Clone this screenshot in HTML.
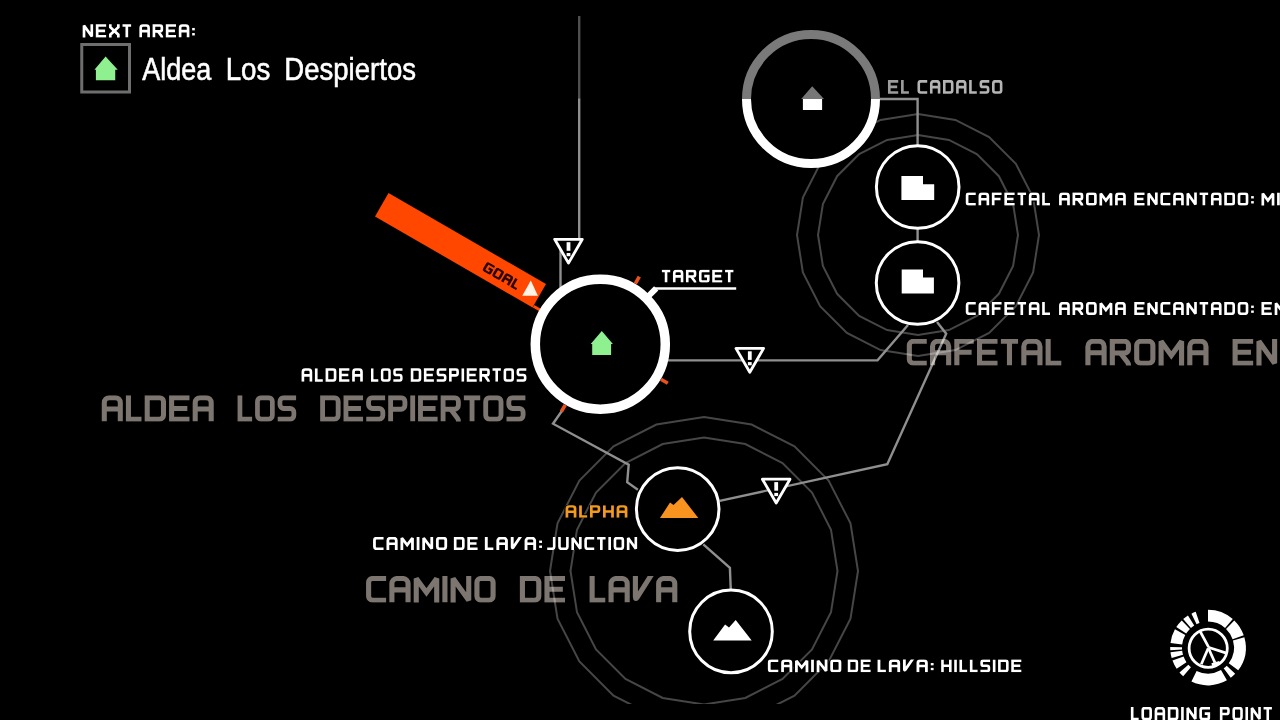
<!DOCTYPE html>
<html><head><meta charset="utf-8"><style>
html,body{margin:0;padding:0;background:#000;width:1280px;height:720px;overflow:hidden}
svg{display:block;will-change:transform}
text{font-family:"Liberation Sans",sans-serif}
</style></head><body>
<svg width="1280" height="720" viewBox="0 0 1280 720">
<defs><clipPath id="mapclip"><rect x="0" y="16" width="1280" height="688"/></clipPath></defs>
<rect width="1280" height="720" fill="#000"/>
<g transform="translate(906.90,338.90) scale(0.26852,0.26700)"><clipPath id="wc1"><rect x="-20" y="0" width="615.0" height="100"/></clipPath><g clip-path="url(#wc1)"><g fill="none" stroke="#7d7670" stroke-width="19" stroke-linejoin="miter" stroke-miterlimit="2.5"><path transform="translate(0.00,0)" d="M74.00,9.00L24.00,9.00C15.72,9.00 9.00,15.72 9.00,24.00L9.00,76.00C9.00,84.28 15.72,91.00 24.00,91.00L74.00,91.00"/><path transform="translate(86.50,0)" d="M9.00,100.00L9.00,28.00C9.00,17.51 17.51,9.00 28.00,9.00L50.00,9.00C60.49,9.00 69.00,17.51 69.00,28.00L69.00,100.00"/><path transform="translate(86.50,0)" d="M9.00,52.00L69.00,52.00"/><path transform="translate(177.00,0)" d="M72.00,9.00L9.00,9.00L9.00,100.00"/><path transform="translate(177.00,0)" d="M9.00,50.00L64.00,50.00"/><path transform="translate(261.50,0)" d="M76.00,9.00L9.00,9.00L9.00,91.00L76.00,91.00"/><path transform="translate(261.50,0)" d="M9.00,50.00L68.00,50.00"/><path transform="translate(350.00,0)" d="M0.00,9.00L64.00,9.00"/><path transform="translate(350.00,0)" d="M32.00,9.00L32.00,100.00"/><path transform="translate(426.50,0)" d="M9.00,100.00L9.00,28.00C9.00,17.51 17.51,9.00 28.00,9.00L50.00,9.00C60.49,9.00 69.00,17.51 69.00,28.00L69.00,100.00"/><path transform="translate(426.50,0)" d="M9.00,52.00L69.00,52.00"/><path transform="translate(517.00,0)" d="M9.00,0.00L9.00,91.00L58.00,91.00"/></g></g></g>
<g transform="translate(1085.50,338.90) scale(0.26952,0.26700)"><clipPath id="wc2"><rect x="-20" y="0" width="496.0" height="100"/></clipPath><g clip-path="url(#wc2)"><g fill="none" stroke="#7d7670" stroke-width="19" stroke-linejoin="miter" stroke-miterlimit="2.5"><path transform="translate(0.00,0)" d="M9.00,100.00L9.00,28.00C9.00,17.51 17.51,9.00 28.00,9.00L50.00,9.00C60.49,9.00 69.00,17.51 69.00,28.00L69.00,100.00"/><path transform="translate(0.00,0)" d="M9.00,52.00L69.00,52.00"/><path transform="translate(90.50,0)" d="M9.00,100.00L9.00,9.00L54.00,9.00C62.28,9.00 69.00,15.72 69.00,24.00L69.00,38.00C69.00,46.28 62.28,53.00 54.00,53.00L9.00,53.00"/><path transform="translate(90.50,0)" d="M39.00,53.00L65.34,87.24C67.36,89.87 69.00,94.69 69.00,98.00L69.00,105.00"/><path transform="translate(181.00,0)" d="M9.00,24.00C9.00,15.72 15.72,9.00 24.00,9.00L54.00,9.00C62.28,9.00 69.00,15.72 69.00,24.00L69.00,76.00C69.00,84.28 62.28,91.00 54.00,91.00L24.00,91.00C15.72,91.00 9.00,84.28 9.00,76.00Z"/><path transform="translate(271.50,0)" d="M9.00,105.00L9.00,9.00L47.00,62.00L85.00,9.00L85.00,105.00"/><path transform="translate(378.00,0)" d="M9.00,100.00L9.00,28.00C9.00,17.51 17.51,9.00 28.00,9.00L50.00,9.00C60.49,9.00 69.00,17.51 69.00,28.00L69.00,100.00"/><path transform="translate(378.00,0)" d="M9.00,52.00L69.00,52.00"/></g></g></g>
<g transform="translate(1232.70,338.90) scale(0.26952,0.26700)"><clipPath id="wc3"><rect x="-20" y="0" width="819.0" height="100"/></clipPath><g clip-path="url(#wc3)"><g fill="none" stroke="#7d7670" stroke-width="19" stroke-linejoin="miter" stroke-miterlimit="2.5"><path transform="translate(0.00,0)" d="M76.00,9.00L9.00,9.00L9.00,91.00L76.00,91.00"/><path transform="translate(0.00,0)" d="M9.00,50.00L68.00,50.00"/><path transform="translate(88.50,0)" d="M9.00,105.00L9.00,9.00L67.00,91.00L67.00,-5.00"/><path transform="translate(177.00,0)" d="M74.00,9.00L24.00,9.00C15.72,9.00 9.00,15.72 9.00,24.00L9.00,76.00C9.00,84.28 15.72,91.00 24.00,91.00L74.00,91.00"/><path transform="translate(263.50,0)" d="M9.00,100.00L9.00,28.00C9.00,17.51 17.51,9.00 28.00,9.00L50.00,9.00C60.49,9.00 69.00,17.51 69.00,28.00L69.00,100.00"/><path transform="translate(263.50,0)" d="M9.00,52.00L69.00,52.00"/><path transform="translate(354.00,0)" d="M9.00,105.00L9.00,9.00L67.00,91.00L67.00,-5.00"/><path transform="translate(442.50,0)" d="M0.00,9.00L64.00,9.00"/><path transform="translate(442.50,0)" d="M32.00,9.00L32.00,100.00"/><path transform="translate(519.00,0)" d="M9.00,100.00L9.00,28.00C9.00,17.51 17.51,9.00 28.00,9.00L50.00,9.00C60.49,9.00 69.00,17.51 69.00,28.00L69.00,100.00"/><path transform="translate(519.00,0)" d="M9.00,52.00L69.00,52.00"/><path transform="translate(609.50,0)" d="M9.00,9.00L55.00,9.00C63.28,9.00 70.00,15.72 70.00,24.00L70.00,76.00C70.00,84.28 63.28,91.00 55.00,91.00L9.00,91.00Z"/><path transform="translate(701.00,0)" d="M9.00,24.00C9.00,15.72 15.72,9.00 24.00,9.00L54.00,9.00C62.28,9.00 69.00,15.72 69.00,24.00L69.00,76.00C69.00,84.28 62.28,91.00 54.00,91.00L24.00,91.00C15.72,91.00 9.00,84.28 9.00,76.00Z"/></g></g></g>
<g transform="translate(101.90,395.30) scale(0.26659,0.26200)"><clipPath id="wc4"><rect x="-20" y="0" width="459.0" height="100"/></clipPath><g clip-path="url(#wc4)"><g fill="none" stroke="#7d7670" stroke-width="19" stroke-linejoin="miter" stroke-miterlimit="2.5"><path transform="translate(0.00,0)" d="M9.00,100.00L9.00,28.00C9.00,17.51 17.51,9.00 28.00,9.00L50.00,9.00C60.49,9.00 69.00,17.51 69.00,28.00L69.00,100.00"/><path transform="translate(0.00,0)" d="M9.00,52.00L69.00,52.00"/><path transform="translate(90.50,0)" d="M9.00,0.00L9.00,91.00L58.00,91.00"/><path transform="translate(161.00,0)" d="M9.00,9.00L55.00,9.00C63.28,9.00 70.00,15.72 70.00,24.00L70.00,76.00C70.00,84.28 63.28,91.00 55.00,91.00L9.00,91.00Z"/><path transform="translate(252.50,0)" d="M76.00,9.00L9.00,9.00L9.00,91.00L76.00,91.00"/><path transform="translate(252.50,0)" d="M9.00,50.00L68.00,50.00"/><path transform="translate(341.00,0)" d="M9.00,100.00L9.00,28.00C9.00,17.51 17.51,9.00 28.00,9.00L50.00,9.00C60.49,9.00 69.00,17.51 69.00,28.00L69.00,100.00"/><path transform="translate(341.00,0)" d="M9.00,52.00L69.00,52.00"/></g></g></g>
<g transform="translate(237.70,395.30) scale(0.24851,0.26200)"><clipPath id="wc5"><rect x="-20" y="0" width="275.0" height="100"/></clipPath><g clip-path="url(#wc5)"><g fill="none" stroke="#7d7670" stroke-width="19" stroke-linejoin="miter" stroke-miterlimit="2.5"><path transform="translate(0.00,0)" d="M9.00,0.00L9.00,91.00L58.00,91.00"/><path transform="translate(70.50,0)" d="M9.00,24.00C9.00,15.72 15.72,9.00 24.00,9.00L54.00,9.00C62.28,9.00 69.00,15.72 69.00,24.00L69.00,76.00C69.00,84.28 62.28,91.00 54.00,91.00L24.00,91.00C15.72,91.00 9.00,84.28 9.00,76.00Z"/><path transform="translate(161.00,0)" d="M74.00,9.00L24.00,9.00C15.72,9.00 9.00,15.72 9.00,24.00L9.00,35.00C9.00,43.28 15.72,50.00 24.00,50.00L50.00,50.00C58.28,50.00 65.00,56.72 65.00,65.00L65.00,76.00C65.00,84.28 58.28,91.00 50.00,91.00L0.00,91.00"/></g></g></g>
<g transform="translate(320.30,395.30) scale(0.25526,0.26200)"><clipPath id="wc6"><rect x="-20" y="0" width="843.5" height="100"/></clipPath><g clip-path="url(#wc6)"><g fill="none" stroke="#7d7670" stroke-width="19" stroke-linejoin="miter" stroke-miterlimit="2.5"><path transform="translate(0.00,0)" d="M9.00,9.00L55.00,9.00C63.28,9.00 70.00,15.72 70.00,24.00L70.00,76.00C70.00,84.28 63.28,91.00 55.00,91.00L9.00,91.00Z"/><path transform="translate(91.50,0)" d="M76.00,9.00L9.00,9.00L9.00,91.00L76.00,91.00"/><path transform="translate(91.50,0)" d="M9.00,50.00L68.00,50.00"/><path transform="translate(180.00,0)" d="M74.00,9.00L24.00,9.00C15.72,9.00 9.00,15.72 9.00,24.00L9.00,35.00C9.00,43.28 15.72,50.00 24.00,50.00L50.00,50.00C58.28,50.00 65.00,56.72 65.00,65.00L65.00,76.00C65.00,84.28 58.28,91.00 50.00,91.00L0.00,91.00"/><path transform="translate(266.50,0)" d="M9.00,100.00L9.00,9.00L50.00,9.00C58.28,9.00 65.00,15.72 65.00,24.00L65.00,38.00C65.00,46.28 58.28,53.00 50.00,53.00L9.00,53.00"/><path transform="translate(353.00,0)" d="M9.00,0.00L9.00,100.00"/><path transform="translate(383.50,0)" d="M76.00,9.00L9.00,9.00L9.00,91.00L76.00,91.00"/><path transform="translate(383.50,0)" d="M9.00,50.00L68.00,50.00"/><path transform="translate(472.00,0)" d="M9.00,100.00L9.00,9.00L54.00,9.00C62.28,9.00 69.00,15.72 69.00,24.00L69.00,38.00C69.00,46.28 62.28,53.00 54.00,53.00L9.00,53.00"/><path transform="translate(472.00,0)" d="M39.00,53.00L65.34,87.24C67.36,89.87 69.00,94.69 69.00,98.00L69.00,105.00"/><path transform="translate(562.50,0)" d="M0.00,9.00L64.00,9.00"/><path transform="translate(562.50,0)" d="M32.00,9.00L32.00,100.00"/><path transform="translate(639.00,0)" d="M9.00,24.00C9.00,15.72 15.72,9.00 24.00,9.00L54.00,9.00C62.28,9.00 69.00,15.72 69.00,24.00L69.00,76.00C69.00,84.28 62.28,91.00 54.00,91.00L24.00,91.00C15.72,91.00 9.00,84.28 9.00,76.00Z"/><path transform="translate(729.50,0)" d="M74.00,9.00L24.00,9.00C15.72,9.00 9.00,15.72 9.00,24.00L9.00,35.00C9.00,43.28 15.72,50.00 24.00,50.00L50.00,50.00C58.28,50.00 65.00,56.72 65.00,65.00L65.00,76.00C65.00,84.28 58.28,91.00 50.00,91.00L0.00,91.00"/></g></g></g>
<g transform="translate(366.20,576.10) scale(0.26909,0.26500)"><clipPath id="wc7"><rect x="-20" y="0" width="520.5" height="100"/></clipPath><g clip-path="url(#wc7)"><g fill="none" stroke="#7d7670" stroke-width="19" stroke-linejoin="miter" stroke-miterlimit="2.5"><path transform="translate(0.00,0)" d="M74.00,9.00L24.00,9.00C15.72,9.00 9.00,15.72 9.00,24.00L9.00,76.00C9.00,84.28 15.72,91.00 24.00,91.00L74.00,91.00"/><path transform="translate(86.50,0)" d="M9.00,100.00L9.00,28.00C9.00,17.51 17.51,9.00 28.00,9.00L50.00,9.00C60.49,9.00 69.00,17.51 69.00,28.00L69.00,100.00"/><path transform="translate(86.50,0)" d="M9.00,52.00L69.00,52.00"/><path transform="translate(177.00,0)" d="M9.00,105.00L9.00,9.00L47.00,62.00L85.00,9.00L85.00,105.00"/><path transform="translate(283.50,0)" d="M9.00,0.00L9.00,100.00"/><path transform="translate(314.00,0)" d="M9.00,105.00L9.00,9.00L67.00,91.00L67.00,-5.00"/><path transform="translate(402.50,0)" d="M9.00,24.00C9.00,15.72 15.72,9.00 24.00,9.00L54.00,9.00C62.28,9.00 69.00,15.72 69.00,24.00L69.00,76.00C69.00,84.28 62.28,91.00 54.00,91.00L24.00,91.00C15.72,91.00 9.00,84.28 9.00,76.00Z"/></g></g></g>
<g transform="translate(520.00,576.10) scale(0.26866,0.26500)"><clipPath id="wc8"><rect x="-20" y="0" width="207.5" height="100"/></clipPath><g clip-path="url(#wc8)"><g fill="none" stroke="#7d7670" stroke-width="19" stroke-linejoin="miter" stroke-miterlimit="2.5"><path transform="translate(0.00,0)" d="M9.00,9.00L55.00,9.00C63.28,9.00 70.00,15.72 70.00,24.00L70.00,76.00C70.00,84.28 63.28,91.00 55.00,91.00L9.00,91.00Z"/><path transform="translate(91.50,0)" d="M76.00,9.00L9.00,9.00L9.00,91.00L76.00,91.00"/><path transform="translate(91.50,0)" d="M9.00,50.00L68.00,50.00"/></g></g></g>
<g transform="translate(589.70,576.10) scale(0.26882,0.26500)"><clipPath id="wc9"><rect x="-20" y="0" width="365.5" height="100"/></clipPath><g clip-path="url(#wc9)"><g fill="none" stroke="#7d7670" stroke-width="19" stroke-linejoin="miter" stroke-miterlimit="2.5"><path transform="translate(0.00,0)" d="M9.00,0.00L9.00,91.00L58.00,91.00"/><path transform="translate(70.50,0)" d="M9.00,100.00L9.00,28.00C9.00,17.51 17.51,9.00 28.00,9.00L50.00,9.00C60.49,9.00 69.00,17.51 69.00,28.00L69.00,100.00"/><path transform="translate(70.50,0)" d="M9.00,52.00L69.00,52.00"/><path transform="translate(161.00,0)" d="M9.00,-5.00L9.00,79.00C9.00,85.63 11.83,86.44 15.33,80.81L71.72,-10.00"/><path transform="translate(247.50,0)" d="M9.00,100.00L9.00,28.00C9.00,17.51 17.51,9.00 28.00,9.00L50.00,9.00C60.49,9.00 69.00,17.51 69.00,28.00L69.00,100.00"/><path transform="translate(247.50,0)" d="M9.00,52.00L69.00,52.00"/></g></g></g>
<g style="mix-blend-mode:screen">
<g clip-path="url(#mapclip)" fill="none" stroke="#464646" stroke-width="2.0">
<polygon points="918.0,114.0 955.4,119.9 989.1,137.1 1015.9,163.9 1033.1,197.6 1039.0,235.0 1033.1,272.4 1015.9,306.1 989.1,332.9 955.4,350.1 918.0,356.0 880.6,350.1 846.9,332.9 820.1,306.1 802.9,272.4 797.0,235.0 802.9,197.6 820.1,163.9 846.9,137.1 880.6,119.9"/>
<polygon points="918.0,135.0 948.9,139.9 976.8,154.1 998.9,176.2 1013.1,204.1 1018.0,235.0 1013.1,265.9 998.9,293.8 976.8,315.9 948.9,330.1 918.0,335.0 887.1,330.1 859.2,315.9 837.1,293.8 822.9,265.9 818.0,235.0 822.9,204.1 837.1,176.2 859.2,154.1 887.1,139.9"/>
<polygon points="704.0,417.0 751.6,424.5 794.5,446.4 828.6,480.5 850.5,523.4 858.0,571.0 850.5,618.6 828.6,661.5 794.5,695.6 751.6,717.5 704.0,725.0 656.4,717.5 613.5,695.6 579.4,661.5 557.5,618.6 550.0,571.0 557.5,523.4 579.4,480.5 613.5,446.4 656.4,424.5"/>
<polygon points="704.0,437.5 745.3,444.0 782.5,463.0 812.0,492.5 831.0,529.7 837.5,571.0 831.0,612.3 812.0,649.5 782.5,679.0 745.3,698.0 704.0,704.5 662.7,698.0 625.5,679.0 596.0,649.5 577.0,612.3 570.5,571.0 577.0,529.7 596.0,492.5 625.5,463.0 662.7,444.0"/>
</g>
<g fill="none" stroke="#8f8f8f" stroke-width="2.4" stroke-linejoin="miter">
<line x1="579.2" y1="16" x2="579.2" y2="98.3" stroke="#505050"/>
<line x1="579.2" y1="98.3" x2="579.2" y2="240"/>
<line x1="560.5" y1="250" x2="560.5" y2="290"/>
<polyline points="668,360.4 877.5,360.4 908,325"/>
<polyline points="937,322 946.2,333.7 887.3,464.2 719.7,500.9"/>
<polyline points="562.9,409.5 553,423.7 628.7,464.6 627.2,482.2 637.9,489.8"/>
<polyline points="703.3,544.4 729.9,567.9 730.8,590"/>
<polyline points="878,99 917.6,99 917.6,146"/>
<line x1="917.6" y1="228" x2="917.6" y2="242"/>
</g>
</g>
<polygon points="388.5,193.1 546.0,284.0 532.5,307.4 375.0,216.5" fill="#ff4700"/>
<polygon points="530.8,280.4 522.3,295.8 537.9,295.8" fill="#fff4e6"/>
<line x1="533.5" y1="306.2" x2="540.5" y2="310.2" stroke="#ff4a0c" stroke-width="3"/>
<g transform="translate(482.3,270.6) rotate(30)"><g transform="translate(0.00,-10.30) scale(0.11017,0.10300)"><clipPath id="wc10"><rect x="-20" y="0" width="394.0" height="100"/></clipPath><g clip-path="url(#wc10)"><g fill="none" stroke="#2a0600" stroke-width="23" stroke-linejoin="miter" stroke-miterlimit="2.5"><path transform="translate(0.00,0)" d="M80.00,9.00L24.00,9.00C15.72,9.00 9.00,15.72 9.00,24.00L9.00,76.00C9.00,84.28 15.72,91.00 24.00,91.00L62.00,91.00C66.97,91.00 71.00,86.97 71.00,82.00L71.00,50.00L40.00,50.00"/><path transform="translate(100.00,0)" d="M9.00,24.00C9.00,15.72 15.72,9.00 24.00,9.00L54.00,9.00C62.28,9.00 69.00,15.72 69.00,24.00L69.00,76.00C69.00,84.28 62.28,91.00 54.00,91.00L24.00,91.00C15.72,91.00 9.00,84.28 9.00,76.00Z"/><path transform="translate(198.00,0)" d="M9.00,100.00L9.00,28.00C9.00,17.51 17.51,9.00 28.00,9.00L50.00,9.00C60.49,9.00 69.00,17.51 69.00,28.00L69.00,100.00"/><path transform="translate(198.00,0)" d="M9.00,52.00L69.00,52.00"/><path transform="translate(296.00,0)" d="M9.00,0.00L9.00,91.00L58.00,91.00"/></g></g></g></g>
<circle cx="600.3" cy="344.2" r="65" fill="#000" stroke="#fff" stroke-width="9.5"/>
<line x1="635.3" y1="283.6" x2="639.3" y2="276.7" stroke="#e8521c" stroke-width="3.6"/>
<line x1="660.9" y1="379.2" x2="667.8" y2="383.2" stroke="#e8521c" stroke-width="3.6"/>
<line x1="565.3" y1="404.8" x2="561.3" y2="411.7" stroke="#e8521c" stroke-width="3.6"/>
<line x1="647.0" y1="297.5" x2="656.2" y2="288.3" stroke="#fff" stroke-width="6"/>
<line x1="655" y1="288.5" x2="736.2" y2="288.5" stroke="#fff" stroke-width="2.5"/>
<path d="M590.7,344 L601.8,331.1 L612.9,344 L611.1,344 L611.1,355.1 L592.2,355.1 L592.2,344 Z" fill="#8ff08f"/>
<circle cx="811" cy="99" r="65" fill="#000"/>
<path d="M746.5,99 A64.5,64.5 0 0 1 875.5,99" fill="none" stroke="#7a7a7a" stroke-width="9"/>
<path d="M746.5,99 A64.5,64.5 0 0 0 875.5,99" fill="none" stroke="#fff" stroke-width="9"/>
<polygon points="801.2,99 812.2,86.2 824,99" fill="#777"/>
<rect x="802.9" y="99" width="19.2" height="11" fill="#fff"/>
<circle cx="917.7" cy="187" r="41.3" fill="#000" stroke="#fff" stroke-width="3"/>
<circle cx="917.6" cy="283" r="41.3" fill="#000" stroke="#fff" stroke-width="3"/>
<circle cx="677.7" cy="509.1" r="41.3" fill="#000" stroke="#fff" stroke-width="3"/>
<circle cx="731" cy="631.4" r="41.3" fill="#000" stroke="#fff" stroke-width="3"/>
<path d="M901.4,175.9 H923 V184.2 H934.2 V200 H901.4 Z" fill="#fff"/>
<path d="M901.7,269.4 H923 V277.6 H933.9 V293.6 H901.7 Z" fill="#fff"/>
<path d="M660,518 L670,502.5 L673.5,505 L682,497 L698.3,518 Z" fill="#f7931e"/>
<path d="M713.2,640.4 L725.1,624.4 L729,627.4 L735.7,619.9 L751.7,640.4 Z" fill="#fff"/>
<path d="M554.70,239.30 L582.30,239.30 L568.50,263.10 Z" fill="#000" stroke="#fff" stroke-width="2.8" stroke-linejoin="round"/><rect x="566.60" y="242.20" width="3.8" height="8.6" fill="#fff"/><rect x="566.60" y="253.00" width="3.8" height="3.2" fill="#fff"/>
<path d="M736.00,348.40 L763.60,348.40 L749.80,372.20 Z" fill="#000" stroke="#fff" stroke-width="2.8" stroke-linejoin="round"/><rect x="747.90" y="351.30" width="3.8" height="8.6" fill="#fff"/><rect x="747.90" y="362.10" width="3.8" height="3.2" fill="#fff"/>
<path d="M762.40,479.20 L790.00,479.20 L776.20,503.00 Z" fill="#000" stroke="#fff" stroke-width="2.8" stroke-linejoin="round"/><rect x="774.30" y="482.10" width="3.8" height="8.6" fill="#fff"/><rect x="774.30" y="492.90" width="3.8" height="3.2" fill="#fff"/>
<rect x="81.75" y="44.5" width="47.75" height="47.5" fill="none" stroke="#6e6e6e" stroke-width="3"/>
<path d="M94.4,69.75 L105.6,56.5 L117.75,69.75 L115.25,69.75 L115.25,80.25 L95.9,80.25 L95.9,69.75 Z" fill="#8ff08f"/>
<path d="M1208.00,609.80 A37.8,37.8 0 0 1 1232.80,619.07 L1225.06,627.98 A26,26 0 0 0 1208.00,621.60 Z" fill="#fff"/>
<path d="M1234.26,620.41 A37.8,37.8 0 0 1 1243.74,635.29 L1232.58,639.14 A26,26 0 0 0 1226.06,628.90 Z" fill="#fff"/>
<path d="M1244.34,637.18 A37.8,37.8 0 0 1 1238.19,670.35 L1228.76,663.25 A26,26 0 0 0 1232.99,640.43 Z" fill="#fff"/>
<path d="M1235.19,673.86 A37.8,37.8 0 0 1 1230.75,677.79 L1223.65,668.36 A26,26 0 0 0 1226.70,665.66 Z" fill="#fff"/>
<path d="M1226.90,680.34 A37.8,37.8 0 0 1 1191.43,681.57 L1196.60,670.97 A26,26 0 0 0 1221.00,670.12 Z" fill="#fff"/>
<path d="M1183.20,676.13 A37.8,37.8 0 0 1 1179.47,672.40 L1188.38,664.66 A26,26 0 0 0 1190.94,667.22 Z" fill="#fff"/>
<path d="M1176.66,668.74 A37.8,37.8 0 0 1 1172.48,660.53 L1183.57,656.49 A26,26 0 0 0 1186.45,662.14 Z" fill="#fff"/>
<path d="M1171.66,658.02 A37.8,37.8 0 0 1 1170.48,652.21 L1182.19,650.77 A26,26 0 0 0 1183.01,654.77 Z" fill="#fff"/>
<path d="M1170.29,650.24 A37.8,37.8 0 0 1 1170.21,646.94 L1182.00,647.15 A26,26 0 0 0 1182.06,649.41 Z" fill="#fff"/>
<path d="M1170.48,642.99 A37.8,37.8 0 0 1 1174.94,629.27 L1185.26,634.99 A26,26 0 0 0 1182.19,644.43 Z" fill="#fff"/>
<path d="M1176.30,627.01 A37.8,37.8 0 0 1 1181.74,620.41 L1189.94,628.90 A26,26 0 0 0 1186.19,633.44 Z" fill="#fff"/>
<path d="M1183.20,619.07 A37.8,37.8 0 0 1 1187.97,615.54 L1194.22,625.55 A26,26 0 0 0 1190.94,627.98 Z" fill="#fff"/>
<path d="M1191.43,613.63 A37.8,37.8 0 0 1 1195.69,611.86 L1199.54,623.02 A26,26 0 0 0 1196.60,624.23 Z" fill="#fff"/>
<circle cx="1208.2" cy="648.3" r="19.1" fill="none" stroke="#fff" stroke-width="2.8"/>
<g stroke="#fff" stroke-width="2.7" fill="none" stroke-linecap="butt"><line x1="1200.2" y1="631.5" x2="1208.6" y2="647.2"/><line x1="1208.2" y1="647.2" x2="1226.4" y2="653.1"/><line x1="1208.2" y1="648.2" x2="1201.3" y2="664.2"/><line x1="1208.6" y1="648.5" x2="1214.9" y2="662.6"/><line x1="1211.8" y1="664.6" x2="1219.6" y2="662.2"/></g>
<g font-family="Liberation Sans, sans-serif">
<g transform="translate(82.80,24.20) scale(0.13417,0.13400)"><clipPath id="wc11"><rect x="-20" y="0" width="400.0" height="100"/></clipPath><g clip-path="url(#wc11)"><g fill="none" stroke="#000" stroke-width="37.88819875776397" stroke-linejoin="miter" stroke-miterlimit="2.5"><path transform="translate(0.00,0)" d="M9.00,105.00L9.00,9.00L67.00,91.00L67.00,-5.00"/><path transform="translate(98.00,0)" d="M76.00,9.00L9.00,9.00L9.00,91.00L76.00,91.00"/><path transform="translate(98.00,0)" d="M9.00,50.00L68.00,50.00"/><path transform="translate(196.00,0)" d="M9.00,-5.00L9.00,22.00L69.00,78.00L69.00,105.00"/><path transform="translate(196.00,0)" d="M69.00,-5.00L69.00,22.00L9.00,78.00L9.00,105.00"/><path transform="translate(296.00,0)" d="M0.00,9.00L64.00,9.00"/><path transform="translate(296.00,0)" d="M32.00,9.00L32.00,100.00"/></g></g></g>
<g transform="translate(82.80,24.20) scale(0.13417,0.13400)"><clipPath id="wc12"><rect x="-20" y="0" width="400.0" height="100"/></clipPath><g clip-path="url(#wc12)"><g fill="none" stroke="#ffffff" stroke-width="20" stroke-linejoin="miter" stroke-miterlimit="2.5"><path transform="translate(0.00,0)" d="M9.00,105.00L9.00,9.00L67.00,91.00L67.00,-5.00"/><path transform="translate(98.00,0)" d="M76.00,9.00L9.00,9.00L9.00,91.00L76.00,91.00"/><path transform="translate(98.00,0)" d="M9.00,50.00L68.00,50.00"/><path transform="translate(196.00,0)" d="M9.00,-5.00L9.00,22.00L69.00,78.00L69.00,105.00"/><path transform="translate(196.00,0)" d="M69.00,-5.00L69.00,22.00L9.00,78.00L9.00,105.00"/><path transform="translate(296.00,0)" d="M0.00,9.00L64.00,9.00"/><path transform="translate(296.00,0)" d="M32.00,9.00L32.00,100.00"/></g></g></g>
<g transform="translate(139.50,24.20) scale(0.13230,0.13400)"><clipPath id="wc13"><rect x="-20" y="0" width="458.0" height="100"/></clipPath><g clip-path="url(#wc13)"><g fill="none" stroke="#000" stroke-width="38.14104882459313" stroke-linejoin="miter" stroke-miterlimit="2.5"><path transform="translate(0.00,0)" d="M9.00,100.00L9.00,28.00C9.00,17.51 17.51,9.00 28.00,9.00L50.00,9.00C60.49,9.00 69.00,17.51 69.00,28.00L69.00,100.00"/><path transform="translate(0.00,0)" d="M9.00,52.00L69.00,52.00"/><path transform="translate(100.00,0)" d="M9.00,100.00L9.00,9.00L54.00,9.00C62.28,9.00 69.00,15.72 69.00,24.00L69.00,38.00C69.00,46.28 62.28,53.00 54.00,53.00L9.00,53.00"/><path transform="translate(100.00,0)" d="M39.00,53.00L65.34,87.24C67.36,89.87 69.00,94.69 69.00,98.00L69.00,105.00"/><path transform="translate(200.00,0)" d="M76.00,9.00L9.00,9.00L9.00,91.00L76.00,91.00"/><path transform="translate(200.00,0)" d="M9.00,50.00L68.00,50.00"/><path transform="translate(298.00,0)" d="M9.00,100.00L9.00,28.00C9.00,17.51 17.51,9.00 28.00,9.00L50.00,9.00C60.49,9.00 69.00,17.51 69.00,28.00L69.00,100.00"/><path transform="translate(298.00,0)" d="M9.00,52.00L69.00,52.00"/></g><rect x="398.00" y="28" width="20" height="18" fill="#000"/><rect x="398.00" y="66" width="20" height="18" fill="#000"/></g></g>
<g transform="translate(139.50,24.20) scale(0.13230,0.13400)"><clipPath id="wc14"><rect x="-20" y="0" width="458.0" height="100"/></clipPath><g clip-path="url(#wc14)"><g fill="none" stroke="#ffffff" stroke-width="20" stroke-linejoin="miter" stroke-miterlimit="2.5"><path transform="translate(0.00,0)" d="M9.00,100.00L9.00,28.00C9.00,17.51 17.51,9.00 28.00,9.00L50.00,9.00C60.49,9.00 69.00,17.51 69.00,28.00L69.00,100.00"/><path transform="translate(0.00,0)" d="M9.00,52.00L69.00,52.00"/><path transform="translate(100.00,0)" d="M9.00,100.00L9.00,9.00L54.00,9.00C62.28,9.00 69.00,15.72 69.00,24.00L69.00,38.00C69.00,46.28 62.28,53.00 54.00,53.00L9.00,53.00"/><path transform="translate(100.00,0)" d="M39.00,53.00L65.34,87.24C67.36,89.87 69.00,94.69 69.00,98.00L69.00,105.00"/><path transform="translate(200.00,0)" d="M76.00,9.00L9.00,9.00L9.00,91.00L76.00,91.00"/><path transform="translate(200.00,0)" d="M9.00,50.00L68.00,50.00"/><path transform="translate(298.00,0)" d="M9.00,100.00L9.00,28.00C9.00,17.51 17.51,9.00 28.00,9.00L50.00,9.00C60.49,9.00 69.00,17.51 69.00,28.00L69.00,100.00"/><path transform="translate(298.00,0)" d="M9.00,52.00L69.00,52.00"/></g><rect x="398.00" y="28" width="20" height="18" fill="#ffffff"/><rect x="398.00" y="66" width="20" height="18" fill="#ffffff"/></g></g>
<text transform="translate(142.25,79.55) scale(0.8491,1)" font-size="31.83" fill="#ffffff" stroke="#ffffff" stroke-width="0.59" paint-order="stroke">Aldea</text>
<text transform="translate(225.65,79.55) scale(0.8720,1)" font-size="31.83" fill="#ffffff" stroke="#ffffff" stroke-width="0.57" paint-order="stroke">Los</text>
<text transform="translate(284.25,79.55) scale(0.8663,1)" font-size="31.83" fill="#ffffff" stroke="#ffffff" stroke-width="0.58" paint-order="stroke">Despiertos</text>
<g transform="translate(888.10,80.10) scale(0.13333,0.13700)"><clipPath id="wc15"><rect x="-20" y="0" width="196.0" height="100"/></clipPath><g clip-path="url(#wc15)"><g fill="none" stroke="#000" stroke-width="38.000000000000036" stroke-linejoin="miter" stroke-miterlimit="2.5"><path transform="translate(0.00,0)" d="M76.00,9.00L9.00,9.00L9.00,91.00L76.00,91.00"/><path transform="translate(0.00,0)" d="M9.00,50.00L68.00,50.00"/><path transform="translate(98.00,0)" d="M9.00,0.00L9.00,91.00L58.00,91.00"/></g></g></g>
<g transform="translate(888.10,80.10) scale(0.13333,0.13700)"><clipPath id="wc16"><rect x="-20" y="0" width="196.0" height="100"/></clipPath><g clip-path="url(#wc16)"><g fill="none" stroke="#9c9c9c" stroke-width="20" stroke-linejoin="miter" stroke-miterlimit="2.5"><path transform="translate(0.00,0)" d="M76.00,9.00L9.00,9.00L9.00,91.00L76.00,91.00"/><path transform="translate(0.00,0)" d="M9.00,50.00L68.00,50.00"/><path transform="translate(98.00,0)" d="M9.00,0.00L9.00,91.00L58.00,91.00"/></g></g></g>
<g transform="translate(917.60,80.10) scale(0.13011,0.13700)"><clipPath id="wc17"><rect x="-20" y="0" width="691.0" height="100"/></clipPath><g clip-path="url(#wc17)"><g fill="none" stroke="#000" stroke-width="38.44628099173555" stroke-linejoin="miter" stroke-miterlimit="2.5"><path transform="translate(0.00,0)" d="M74.00,9.00L24.00,9.00C15.72,9.00 9.00,15.72 9.00,24.00L9.00,76.00C9.00,84.28 15.72,91.00 24.00,91.00L74.00,91.00"/><path transform="translate(96.00,0)" d="M9.00,100.00L9.00,28.00C9.00,17.51 17.51,9.00 28.00,9.00L50.00,9.00C60.49,9.00 69.00,17.51 69.00,28.00L69.00,100.00"/><path transform="translate(96.00,0)" d="M9.00,52.00L69.00,52.00"/><path transform="translate(196.00,0)" d="M9.00,9.00L55.00,9.00C63.28,9.00 70.00,15.72 70.00,24.00L70.00,76.00C70.00,84.28 63.28,91.00 55.00,91.00L9.00,91.00Z"/><path transform="translate(297.00,0)" d="M9.00,100.00L9.00,28.00C9.00,17.51 17.51,9.00 28.00,9.00L50.00,9.00C60.49,9.00 69.00,17.51 69.00,28.00L69.00,100.00"/><path transform="translate(297.00,0)" d="M9.00,52.00L69.00,52.00"/><path transform="translate(397.00,0)" d="M9.00,0.00L9.00,91.00L58.00,91.00"/><path transform="translate(477.00,0)" d="M74.00,9.00L24.00,9.00C15.72,9.00 9.00,15.72 9.00,24.00L9.00,35.00C9.00,43.28 15.72,50.00 24.00,50.00L50.00,50.00C58.28,50.00 65.00,56.72 65.00,65.00L65.00,76.00C65.00,84.28 58.28,91.00 50.00,91.00L0.00,91.00"/><path transform="translate(573.00,0)" d="M9.00,24.00C9.00,15.72 15.72,9.00 24.00,9.00L54.00,9.00C62.28,9.00 69.00,15.72 69.00,24.00L69.00,76.00C69.00,84.28 62.28,91.00 54.00,91.00L24.00,91.00C15.72,91.00 9.00,84.28 9.00,76.00Z"/></g></g></g>
<g transform="translate(917.60,80.10) scale(0.13011,0.13700)"><clipPath id="wc18"><rect x="-20" y="0" width="691.0" height="100"/></clipPath><g clip-path="url(#wc18)"><g fill="none" stroke="#b4b4b4" stroke-width="20" stroke-linejoin="miter" stroke-miterlimit="2.5"><path transform="translate(0.00,0)" d="M74.00,9.00L24.00,9.00C15.72,9.00 9.00,15.72 9.00,24.00L9.00,76.00C9.00,84.28 15.72,91.00 24.00,91.00L74.00,91.00"/><path transform="translate(96.00,0)" d="M9.00,100.00L9.00,28.00C9.00,17.51 17.51,9.00 28.00,9.00L50.00,9.00C60.49,9.00 69.00,17.51 69.00,28.00L69.00,100.00"/><path transform="translate(96.00,0)" d="M9.00,52.00L69.00,52.00"/><path transform="translate(196.00,0)" d="M9.00,9.00L55.00,9.00C63.28,9.00 70.00,15.72 70.00,24.00L70.00,76.00C70.00,84.28 63.28,91.00 55.00,91.00L9.00,91.00Z"/><path transform="translate(297.00,0)" d="M9.00,100.00L9.00,28.00C9.00,17.51 17.51,9.00 28.00,9.00L50.00,9.00C60.49,9.00 69.00,17.51 69.00,28.00L69.00,100.00"/><path transform="translate(297.00,0)" d="M9.00,52.00L69.00,52.00"/><path transform="translate(397.00,0)" d="M9.00,0.00L9.00,91.00L58.00,91.00"/><path transform="translate(477.00,0)" d="M74.00,9.00L24.00,9.00C15.72,9.00 9.00,15.72 9.00,24.00L9.00,35.00C9.00,43.28 15.72,50.00 24.00,50.00L50.00,50.00C58.28,50.00 65.00,56.72 65.00,65.00L65.00,76.00C65.00,84.28 58.28,91.00 50.00,91.00L0.00,91.00"/><path transform="translate(573.00,0)" d="M9.00,24.00C9.00,15.72 15.72,9.00 24.00,9.00L54.00,9.00C62.28,9.00 69.00,15.72 69.00,24.00L69.00,76.00C69.00,84.28 62.28,91.00 54.00,91.00L24.00,91.00C15.72,91.00 9.00,84.28 9.00,76.00Z"/></g></g></g>
<g transform="translate(661.90,269.70) scale(0.13000,0.12900)"><clipPath id="wc19"><rect x="-20" y="0" width="590.0" height="100"/></clipPath><g clip-path="url(#wc19)"><g fill="none" stroke="#000" stroke-width="38.46153846153846" stroke-linejoin="miter" stroke-miterlimit="2.5"><path transform="translate(0.00,0)" d="M0.00,9.00L64.00,9.00"/><path transform="translate(0.00,0)" d="M32.00,9.00L32.00,100.00"/><path transform="translate(86.00,0)" d="M9.00,100.00L9.00,28.00C9.00,17.51 17.51,9.00 28.00,9.00L50.00,9.00C60.49,9.00 69.00,17.51 69.00,28.00L69.00,100.00"/><path transform="translate(86.00,0)" d="M9.00,52.00L69.00,52.00"/><path transform="translate(186.00,0)" d="M9.00,100.00L9.00,9.00L54.00,9.00C62.28,9.00 69.00,15.72 69.00,24.00L69.00,38.00C69.00,46.28 62.28,53.00 54.00,53.00L9.00,53.00"/><path transform="translate(186.00,0)" d="M39.00,53.00L65.34,87.24C67.36,89.87 69.00,94.69 69.00,98.00L69.00,105.00"/><path transform="translate(286.00,0)" d="M80.00,9.00L24.00,9.00C15.72,9.00 9.00,15.72 9.00,24.00L9.00,76.00C9.00,84.28 15.72,91.00 24.00,91.00L62.00,91.00C66.97,91.00 71.00,86.97 71.00,82.00L71.00,50.00L40.00,50.00"/><path transform="translate(388.00,0)" d="M76.00,9.00L9.00,9.00L9.00,91.00L76.00,91.00"/><path transform="translate(388.00,0)" d="M9.00,50.00L68.00,50.00"/><path transform="translate(486.00,0)" d="M0.00,9.00L64.00,9.00"/><path transform="translate(486.00,0)" d="M32.00,9.00L32.00,100.00"/></g></g></g>
<g transform="translate(661.90,269.70) scale(0.13000,0.12900)"><clipPath id="wc20"><rect x="-20" y="0" width="590.0" height="100"/></clipPath><g clip-path="url(#wc20)"><g fill="none" stroke="#ffffff" stroke-width="20" stroke-linejoin="miter" stroke-miterlimit="2.5"><path transform="translate(0.00,0)" d="M0.00,9.00L64.00,9.00"/><path transform="translate(0.00,0)" d="M32.00,9.00L32.00,100.00"/><path transform="translate(86.00,0)" d="M9.00,100.00L9.00,28.00C9.00,17.51 17.51,9.00 28.00,9.00L50.00,9.00C60.49,9.00 69.00,17.51 69.00,28.00L69.00,100.00"/><path transform="translate(86.00,0)" d="M9.00,52.00L69.00,52.00"/><path transform="translate(186.00,0)" d="M9.00,100.00L9.00,9.00L54.00,9.00C62.28,9.00 69.00,15.72 69.00,24.00L69.00,38.00C69.00,46.28 62.28,53.00 54.00,53.00L9.00,53.00"/><path transform="translate(186.00,0)" d="M39.00,53.00L65.34,87.24C67.36,89.87 69.00,94.69 69.00,98.00L69.00,105.00"/><path transform="translate(286.00,0)" d="M80.00,9.00L24.00,9.00C15.72,9.00 9.00,15.72 9.00,24.00L9.00,76.00C9.00,84.28 15.72,91.00 24.00,91.00L62.00,91.00C66.97,91.00 71.00,86.97 71.00,82.00L71.00,50.00L40.00,50.00"/><path transform="translate(388.00,0)" d="M76.00,9.00L9.00,9.00L9.00,91.00L76.00,91.00"/><path transform="translate(388.00,0)" d="M9.00,50.00L68.00,50.00"/><path transform="translate(486.00,0)" d="M0.00,9.00L64.00,9.00"/><path transform="translate(486.00,0)" d="M32.00,9.00L32.00,100.00"/></g></g></g>
<g transform="translate(965.90,192.40) scale(0.13307,0.13200)"><clipPath id="wc21"><rect x="-20" y="0" width="672.0" height="100"/></clipPath><g clip-path="url(#wc21)"><g fill="none" stroke="#000" stroke-width="38.035671819262774" stroke-linejoin="miter" stroke-miterlimit="2.5"><path transform="translate(0.00,0)" d="M74.00,9.00L24.00,9.00C15.72,9.00 9.00,15.72 9.00,24.00L9.00,76.00C9.00,84.28 15.72,91.00 24.00,91.00L74.00,91.00"/><path transform="translate(96.00,0)" d="M9.00,100.00L9.00,28.00C9.00,17.51 17.51,9.00 28.00,9.00L50.00,9.00C60.49,9.00 69.00,17.51 69.00,28.00L69.00,100.00"/><path transform="translate(96.00,0)" d="M9.00,52.00L69.00,52.00"/><path transform="translate(196.00,0)" d="M72.00,9.00L9.00,9.00L9.00,100.00"/><path transform="translate(196.00,0)" d="M9.00,50.00L64.00,50.00"/><path transform="translate(290.00,0)" d="M76.00,9.00L9.00,9.00L9.00,91.00L76.00,91.00"/><path transform="translate(290.00,0)" d="M9.00,50.00L68.00,50.00"/><path transform="translate(388.00,0)" d="M0.00,9.00L64.00,9.00"/><path transform="translate(388.00,0)" d="M32.00,9.00L32.00,100.00"/><path transform="translate(474.00,0)" d="M9.00,100.00L9.00,28.00C9.00,17.51 17.51,9.00 28.00,9.00L50.00,9.00C60.49,9.00 69.00,17.51 69.00,28.00L69.00,100.00"/><path transform="translate(474.00,0)" d="M9.00,52.00L69.00,52.00"/><path transform="translate(574.00,0)" d="M9.00,0.00L9.00,91.00L58.00,91.00"/></g></g></g>
<g transform="translate(965.90,192.40) scale(0.13307,0.13200)"><clipPath id="wc22"><rect x="-20" y="0" width="672.0" height="100"/></clipPath><g clip-path="url(#wc22)"><g fill="none" stroke="#ffffff" stroke-width="20" stroke-linejoin="miter" stroke-miterlimit="2.5"><path transform="translate(0.00,0)" d="M74.00,9.00L24.00,9.00C15.72,9.00 9.00,15.72 9.00,24.00L9.00,76.00C9.00,84.28 15.72,91.00 24.00,91.00L74.00,91.00"/><path transform="translate(96.00,0)" d="M9.00,100.00L9.00,28.00C9.00,17.51 17.51,9.00 28.00,9.00L50.00,9.00C60.49,9.00 69.00,17.51 69.00,28.00L69.00,100.00"/><path transform="translate(96.00,0)" d="M9.00,52.00L69.00,52.00"/><path transform="translate(196.00,0)" d="M72.00,9.00L9.00,9.00L9.00,100.00"/><path transform="translate(196.00,0)" d="M9.00,50.00L64.00,50.00"/><path transform="translate(290.00,0)" d="M76.00,9.00L9.00,9.00L9.00,91.00L76.00,91.00"/><path transform="translate(290.00,0)" d="M9.00,50.00L68.00,50.00"/><path transform="translate(388.00,0)" d="M0.00,9.00L64.00,9.00"/><path transform="translate(388.00,0)" d="M32.00,9.00L32.00,100.00"/><path transform="translate(474.00,0)" d="M9.00,100.00L9.00,28.00C9.00,17.51 17.51,9.00 28.00,9.00L50.00,9.00C60.49,9.00 69.00,17.51 69.00,28.00L69.00,100.00"/><path transform="translate(474.00,0)" d="M9.00,52.00L69.00,52.00"/><path transform="translate(574.00,0)" d="M9.00,0.00L9.00,91.00L58.00,91.00"/></g></g></g>
<g transform="translate(1059.20,192.40) scale(0.13462,0.13200)"><clipPath id="wc23"><rect x="-20" y="0" width="534.0" height="100"/></clipPath><g clip-path="url(#wc23)"><g fill="none" stroke="#000" stroke-width="37.82857142857143" stroke-linejoin="miter" stroke-miterlimit="2.5"><path transform="translate(0.00,0)" d="M9.00,100.00L9.00,28.00C9.00,17.51 17.51,9.00 28.00,9.00L50.00,9.00C60.49,9.00 69.00,17.51 69.00,28.00L69.00,100.00"/><path transform="translate(0.00,0)" d="M9.00,52.00L69.00,52.00"/><path transform="translate(100.00,0)" d="M9.00,100.00L9.00,9.00L54.00,9.00C62.28,9.00 69.00,15.72 69.00,24.00L69.00,38.00C69.00,46.28 62.28,53.00 54.00,53.00L9.00,53.00"/><path transform="translate(100.00,0)" d="M39.00,53.00L65.34,87.24C67.36,89.87 69.00,94.69 69.00,98.00L69.00,105.00"/><path transform="translate(200.00,0)" d="M9.00,24.00C9.00,15.72 15.72,9.00 24.00,9.00L54.00,9.00C62.28,9.00 69.00,15.72 69.00,24.00L69.00,76.00C69.00,84.28 62.28,91.00 54.00,91.00L24.00,91.00C15.72,91.00 9.00,84.28 9.00,76.00Z"/><path transform="translate(300.00,0)" d="M9.00,105.00L9.00,9.00L47.00,62.00L85.00,9.00L85.00,105.00"/><path transform="translate(416.00,0)" d="M9.00,100.00L9.00,28.00C9.00,17.51 17.51,9.00 28.00,9.00L50.00,9.00C60.49,9.00 69.00,17.51 69.00,28.00L69.00,100.00"/><path transform="translate(416.00,0)" d="M9.00,52.00L69.00,52.00"/></g></g></g>
<g transform="translate(1059.20,192.40) scale(0.13462,0.13200)"><clipPath id="wc24"><rect x="-20" y="0" width="534.0" height="100"/></clipPath><g clip-path="url(#wc24)"><g fill="none" stroke="#ffffff" stroke-width="20" stroke-linejoin="miter" stroke-miterlimit="2.5"><path transform="translate(0.00,0)" d="M9.00,100.00L9.00,28.00C9.00,17.51 17.51,9.00 28.00,9.00L50.00,9.00C60.49,9.00 69.00,17.51 69.00,28.00L69.00,100.00"/><path transform="translate(0.00,0)" d="M9.00,52.00L69.00,52.00"/><path transform="translate(100.00,0)" d="M9.00,100.00L9.00,9.00L54.00,9.00C62.28,9.00 69.00,15.72 69.00,24.00L69.00,38.00C69.00,46.28 62.28,53.00 54.00,53.00L9.00,53.00"/><path transform="translate(100.00,0)" d="M39.00,53.00L65.34,87.24C67.36,89.87 69.00,94.69 69.00,98.00L69.00,105.00"/><path transform="translate(200.00,0)" d="M9.00,24.00C9.00,15.72 15.72,9.00 24.00,9.00L54.00,9.00C62.28,9.00 69.00,15.72 69.00,24.00L69.00,76.00C69.00,84.28 62.28,91.00 54.00,91.00L24.00,91.00C15.72,91.00 9.00,84.28 9.00,76.00Z"/><path transform="translate(300.00,0)" d="M9.00,105.00L9.00,9.00L47.00,62.00L85.00,9.00L85.00,105.00"/><path transform="translate(416.00,0)" d="M9.00,100.00L9.00,28.00C9.00,17.51 17.51,9.00 28.00,9.00L50.00,9.00C60.49,9.00 69.00,17.51 69.00,28.00L69.00,100.00"/><path transform="translate(416.00,0)" d="M9.00,52.00L69.00,52.00"/></g></g></g>
<g transform="translate(1134.40,192.40) scale(0.13311,0.13200)"><clipPath id="wc25"><rect x="-20" y="0" width="937.0" height="100"/></clipPath><g clip-path="url(#wc25)"><g fill="none" stroke="#000" stroke-width="38.030150753768865" stroke-linejoin="miter" stroke-miterlimit="2.5"><path transform="translate(0.00,0)" d="M76.00,9.00L9.00,9.00L9.00,91.00L76.00,91.00"/><path transform="translate(0.00,0)" d="M9.00,50.00L68.00,50.00"/><path transform="translate(98.00,0)" d="M9.00,105.00L9.00,9.00L67.00,91.00L67.00,-5.00"/><path transform="translate(196.00,0)" d="M74.00,9.00L24.00,9.00C15.72,9.00 9.00,15.72 9.00,24.00L9.00,76.00C9.00,84.28 15.72,91.00 24.00,91.00L74.00,91.00"/><path transform="translate(292.00,0)" d="M9.00,100.00L9.00,28.00C9.00,17.51 17.51,9.00 28.00,9.00L50.00,9.00C60.49,9.00 69.00,17.51 69.00,28.00L69.00,100.00"/><path transform="translate(292.00,0)" d="M9.00,52.00L69.00,52.00"/><path transform="translate(392.00,0)" d="M9.00,105.00L9.00,9.00L67.00,91.00L67.00,-5.00"/><path transform="translate(490.00,0)" d="M0.00,9.00L64.00,9.00"/><path transform="translate(490.00,0)" d="M32.00,9.00L32.00,100.00"/><path transform="translate(576.00,0)" d="M9.00,100.00L9.00,28.00C9.00,17.51 17.51,9.00 28.00,9.00L50.00,9.00C60.49,9.00 69.00,17.51 69.00,28.00L69.00,100.00"/><path transform="translate(576.00,0)" d="M9.00,52.00L69.00,52.00"/><path transform="translate(676.00,0)" d="M9.00,9.00L55.00,9.00C63.28,9.00 70.00,15.72 70.00,24.00L70.00,76.00C70.00,84.28 63.28,91.00 55.00,91.00L9.00,91.00Z"/><path transform="translate(777.00,0)" d="M9.00,24.00C9.00,15.72 15.72,9.00 24.00,9.00L54.00,9.00C62.28,9.00 69.00,15.72 69.00,24.00L69.00,76.00C69.00,84.28 62.28,91.00 54.00,91.00L24.00,91.00C15.72,91.00 9.00,84.28 9.00,76.00Z"/></g><rect x="877.00" y="28" width="20" height="18" fill="#000"/><rect x="877.00" y="66" width="20" height="18" fill="#000"/></g></g>
<g transform="translate(1134.40,192.40) scale(0.13311,0.13200)"><clipPath id="wc26"><rect x="-20" y="0" width="937.0" height="100"/></clipPath><g clip-path="url(#wc26)"><g fill="none" stroke="#ffffff" stroke-width="20" stroke-linejoin="miter" stroke-miterlimit="2.5"><path transform="translate(0.00,0)" d="M76.00,9.00L9.00,9.00L9.00,91.00L76.00,91.00"/><path transform="translate(0.00,0)" d="M9.00,50.00L68.00,50.00"/><path transform="translate(98.00,0)" d="M9.00,105.00L9.00,9.00L67.00,91.00L67.00,-5.00"/><path transform="translate(196.00,0)" d="M74.00,9.00L24.00,9.00C15.72,9.00 9.00,15.72 9.00,24.00L9.00,76.00C9.00,84.28 15.72,91.00 24.00,91.00L74.00,91.00"/><path transform="translate(292.00,0)" d="M9.00,100.00L9.00,28.00C9.00,17.51 17.51,9.00 28.00,9.00L50.00,9.00C60.49,9.00 69.00,17.51 69.00,28.00L69.00,100.00"/><path transform="translate(292.00,0)" d="M9.00,52.00L69.00,52.00"/><path transform="translate(392.00,0)" d="M9.00,105.00L9.00,9.00L67.00,91.00L67.00,-5.00"/><path transform="translate(490.00,0)" d="M0.00,9.00L64.00,9.00"/><path transform="translate(490.00,0)" d="M32.00,9.00L32.00,100.00"/><path transform="translate(576.00,0)" d="M9.00,100.00L9.00,28.00C9.00,17.51 17.51,9.00 28.00,9.00L50.00,9.00C60.49,9.00 69.00,17.51 69.00,28.00L69.00,100.00"/><path transform="translate(576.00,0)" d="M9.00,52.00L69.00,52.00"/><path transform="translate(676.00,0)" d="M9.00,9.00L55.00,9.00C63.28,9.00 70.00,15.72 70.00,24.00L70.00,76.00C70.00,84.28 63.28,91.00 55.00,91.00L9.00,91.00Z"/><path transform="translate(777.00,0)" d="M9.00,24.00C9.00,15.72 15.72,9.00 24.00,9.00L54.00,9.00C62.28,9.00 69.00,15.72 69.00,24.00L69.00,76.00C69.00,84.28 62.28,91.00 54.00,91.00L24.00,91.00C15.72,91.00 9.00,84.28 9.00,76.00Z"/></g><rect x="877.00" y="28" width="20" height="18" fill="#ffffff"/><rect x="877.00" y="66" width="20" height="18" fill="#ffffff"/></g></g>
<g transform="translate(1261.60,192.40) scale(0.13462,0.13200)"><clipPath id="wc27"><rect x="-20" y="0" width="675.0" height="100"/></clipPath><g clip-path="url(#wc27)"><g fill="none" stroke="#000" stroke-width="37.82857142857142" stroke-linejoin="miter" stroke-miterlimit="2.5"><path transform="translate(0.00,0)" d="M9.00,105.00L9.00,9.00L47.00,62.00L85.00,9.00L85.00,105.00"/><path transform="translate(116.00,0)" d="M9.00,0.00L9.00,100.00"/><path transform="translate(156.00,0)" d="M9.00,100.00L9.00,9.00L54.00,9.00C62.28,9.00 69.00,15.72 69.00,24.00L69.00,38.00C69.00,46.28 62.28,53.00 54.00,53.00L9.00,53.00"/><path transform="translate(156.00,0)" d="M39.00,53.00L65.34,87.24C67.36,89.87 69.00,94.69 69.00,98.00L69.00,105.00"/><path transform="translate(256.00,0)" d="M9.00,100.00L9.00,28.00C9.00,17.51 17.51,9.00 28.00,9.00L50.00,9.00C60.49,9.00 69.00,17.51 69.00,28.00L69.00,100.00"/><path transform="translate(256.00,0)" d="M9.00,52.00L69.00,52.00"/><path transform="translate(356.00,0)" d="M9.00,9.00L55.00,9.00C63.28,9.00 70.00,15.72 70.00,24.00L70.00,76.00C70.00,84.28 63.28,91.00 55.00,91.00L9.00,91.00Z"/><path transform="translate(457.00,0)" d="M9.00,24.00C9.00,15.72 15.72,9.00 24.00,9.00L54.00,9.00C62.28,9.00 69.00,15.72 69.00,24.00L69.00,76.00C69.00,84.28 62.28,91.00 54.00,91.00L24.00,91.00C15.72,91.00 9.00,84.28 9.00,76.00Z"/><path transform="translate(557.00,0)" d="M9.00,100.00L9.00,9.00L54.00,9.00C62.28,9.00 69.00,15.72 69.00,24.00L69.00,38.00C69.00,46.28 62.28,53.00 54.00,53.00L9.00,53.00"/><path transform="translate(557.00,0)" d="M39.00,53.00L65.34,87.24C67.36,89.87 69.00,94.69 69.00,98.00L69.00,105.00"/></g></g></g>
<g transform="translate(1261.60,192.40) scale(0.13462,0.13200)"><clipPath id="wc28"><rect x="-20" y="0" width="675.0" height="100"/></clipPath><g clip-path="url(#wc28)"><g fill="none" stroke="#ffffff" stroke-width="20" stroke-linejoin="miter" stroke-miterlimit="2.5"><path transform="translate(0.00,0)" d="M9.00,105.00L9.00,9.00L47.00,62.00L85.00,9.00L85.00,105.00"/><path transform="translate(116.00,0)" d="M9.00,0.00L9.00,100.00"/><path transform="translate(156.00,0)" d="M9.00,100.00L9.00,9.00L54.00,9.00C62.28,9.00 69.00,15.72 69.00,24.00L69.00,38.00C69.00,46.28 62.28,53.00 54.00,53.00L9.00,53.00"/><path transform="translate(156.00,0)" d="M39.00,53.00L65.34,87.24C67.36,89.87 69.00,94.69 69.00,98.00L69.00,105.00"/><path transform="translate(256.00,0)" d="M9.00,100.00L9.00,28.00C9.00,17.51 17.51,9.00 28.00,9.00L50.00,9.00C60.49,9.00 69.00,17.51 69.00,28.00L69.00,100.00"/><path transform="translate(256.00,0)" d="M9.00,52.00L69.00,52.00"/><path transform="translate(356.00,0)" d="M9.00,9.00L55.00,9.00C63.28,9.00 70.00,15.72 70.00,24.00L70.00,76.00C70.00,84.28 63.28,91.00 55.00,91.00L9.00,91.00Z"/><path transform="translate(457.00,0)" d="M9.00,24.00C9.00,15.72 15.72,9.00 24.00,9.00L54.00,9.00C62.28,9.00 69.00,15.72 69.00,24.00L69.00,76.00C69.00,84.28 62.28,91.00 54.00,91.00L24.00,91.00C15.72,91.00 9.00,84.28 9.00,76.00Z"/><path transform="translate(557.00,0)" d="M9.00,100.00L9.00,9.00L54.00,9.00C62.28,9.00 69.00,15.72 69.00,24.00L69.00,38.00C69.00,46.28 62.28,53.00 54.00,53.00L9.00,53.00"/><path transform="translate(557.00,0)" d="M39.00,53.00L65.34,87.24C67.36,89.87 69.00,94.69 69.00,98.00L69.00,105.00"/></g></g></g>
<g transform="translate(965.90,302.00) scale(0.13307,0.12900)"><clipPath id="wc29"><rect x="-20" y="0" width="672.0" height="100"/></clipPath><g clip-path="url(#wc29)"><g fill="none" stroke="#000" stroke-width="38.035671819262774" stroke-linejoin="miter" stroke-miterlimit="2.5"><path transform="translate(0.00,0)" d="M74.00,9.00L24.00,9.00C15.72,9.00 9.00,15.72 9.00,24.00L9.00,76.00C9.00,84.28 15.72,91.00 24.00,91.00L74.00,91.00"/><path transform="translate(96.00,0)" d="M9.00,100.00L9.00,28.00C9.00,17.51 17.51,9.00 28.00,9.00L50.00,9.00C60.49,9.00 69.00,17.51 69.00,28.00L69.00,100.00"/><path transform="translate(96.00,0)" d="M9.00,52.00L69.00,52.00"/><path transform="translate(196.00,0)" d="M72.00,9.00L9.00,9.00L9.00,100.00"/><path transform="translate(196.00,0)" d="M9.00,50.00L64.00,50.00"/><path transform="translate(290.00,0)" d="M76.00,9.00L9.00,9.00L9.00,91.00L76.00,91.00"/><path transform="translate(290.00,0)" d="M9.00,50.00L68.00,50.00"/><path transform="translate(388.00,0)" d="M0.00,9.00L64.00,9.00"/><path transform="translate(388.00,0)" d="M32.00,9.00L32.00,100.00"/><path transform="translate(474.00,0)" d="M9.00,100.00L9.00,28.00C9.00,17.51 17.51,9.00 28.00,9.00L50.00,9.00C60.49,9.00 69.00,17.51 69.00,28.00L69.00,100.00"/><path transform="translate(474.00,0)" d="M9.00,52.00L69.00,52.00"/><path transform="translate(574.00,0)" d="M9.00,0.00L9.00,91.00L58.00,91.00"/></g></g></g>
<g transform="translate(965.90,302.00) scale(0.13307,0.12900)"><clipPath id="wc30"><rect x="-20" y="0" width="672.0" height="100"/></clipPath><g clip-path="url(#wc30)"><g fill="none" stroke="#ffffff" stroke-width="20" stroke-linejoin="miter" stroke-miterlimit="2.5"><path transform="translate(0.00,0)" d="M74.00,9.00L24.00,9.00C15.72,9.00 9.00,15.72 9.00,24.00L9.00,76.00C9.00,84.28 15.72,91.00 24.00,91.00L74.00,91.00"/><path transform="translate(96.00,0)" d="M9.00,100.00L9.00,28.00C9.00,17.51 17.51,9.00 28.00,9.00L50.00,9.00C60.49,9.00 69.00,17.51 69.00,28.00L69.00,100.00"/><path transform="translate(96.00,0)" d="M9.00,52.00L69.00,52.00"/><path transform="translate(196.00,0)" d="M72.00,9.00L9.00,9.00L9.00,100.00"/><path transform="translate(196.00,0)" d="M9.00,50.00L64.00,50.00"/><path transform="translate(290.00,0)" d="M76.00,9.00L9.00,9.00L9.00,91.00L76.00,91.00"/><path transform="translate(290.00,0)" d="M9.00,50.00L68.00,50.00"/><path transform="translate(388.00,0)" d="M0.00,9.00L64.00,9.00"/><path transform="translate(388.00,0)" d="M32.00,9.00L32.00,100.00"/><path transform="translate(474.00,0)" d="M9.00,100.00L9.00,28.00C9.00,17.51 17.51,9.00 28.00,9.00L50.00,9.00C60.49,9.00 69.00,17.51 69.00,28.00L69.00,100.00"/><path transform="translate(474.00,0)" d="M9.00,52.00L69.00,52.00"/><path transform="translate(574.00,0)" d="M9.00,0.00L9.00,91.00L58.00,91.00"/></g></g></g>
<g transform="translate(1059.20,302.00) scale(0.13462,0.12900)"><clipPath id="wc31"><rect x="-20" y="0" width="534.0" height="100"/></clipPath><g clip-path="url(#wc31)"><g fill="none" stroke="#000" stroke-width="37.82857142857143" stroke-linejoin="miter" stroke-miterlimit="2.5"><path transform="translate(0.00,0)" d="M9.00,100.00L9.00,28.00C9.00,17.51 17.51,9.00 28.00,9.00L50.00,9.00C60.49,9.00 69.00,17.51 69.00,28.00L69.00,100.00"/><path transform="translate(0.00,0)" d="M9.00,52.00L69.00,52.00"/><path transform="translate(100.00,0)" d="M9.00,100.00L9.00,9.00L54.00,9.00C62.28,9.00 69.00,15.72 69.00,24.00L69.00,38.00C69.00,46.28 62.28,53.00 54.00,53.00L9.00,53.00"/><path transform="translate(100.00,0)" d="M39.00,53.00L65.34,87.24C67.36,89.87 69.00,94.69 69.00,98.00L69.00,105.00"/><path transform="translate(200.00,0)" d="M9.00,24.00C9.00,15.72 15.72,9.00 24.00,9.00L54.00,9.00C62.28,9.00 69.00,15.72 69.00,24.00L69.00,76.00C69.00,84.28 62.28,91.00 54.00,91.00L24.00,91.00C15.72,91.00 9.00,84.28 9.00,76.00Z"/><path transform="translate(300.00,0)" d="M9.00,105.00L9.00,9.00L47.00,62.00L85.00,9.00L85.00,105.00"/><path transform="translate(416.00,0)" d="M9.00,100.00L9.00,28.00C9.00,17.51 17.51,9.00 28.00,9.00L50.00,9.00C60.49,9.00 69.00,17.51 69.00,28.00L69.00,100.00"/><path transform="translate(416.00,0)" d="M9.00,52.00L69.00,52.00"/></g></g></g>
<g transform="translate(1059.20,302.00) scale(0.13462,0.12900)"><clipPath id="wc32"><rect x="-20" y="0" width="534.0" height="100"/></clipPath><g clip-path="url(#wc32)"><g fill="none" stroke="#ffffff" stroke-width="20" stroke-linejoin="miter" stroke-miterlimit="2.5"><path transform="translate(0.00,0)" d="M9.00,100.00L9.00,28.00C9.00,17.51 17.51,9.00 28.00,9.00L50.00,9.00C60.49,9.00 69.00,17.51 69.00,28.00L69.00,100.00"/><path transform="translate(0.00,0)" d="M9.00,52.00L69.00,52.00"/><path transform="translate(100.00,0)" d="M9.00,100.00L9.00,9.00L54.00,9.00C62.28,9.00 69.00,15.72 69.00,24.00L69.00,38.00C69.00,46.28 62.28,53.00 54.00,53.00L9.00,53.00"/><path transform="translate(100.00,0)" d="M39.00,53.00L65.34,87.24C67.36,89.87 69.00,94.69 69.00,98.00L69.00,105.00"/><path transform="translate(200.00,0)" d="M9.00,24.00C9.00,15.72 15.72,9.00 24.00,9.00L54.00,9.00C62.28,9.00 69.00,15.72 69.00,24.00L69.00,76.00C69.00,84.28 62.28,91.00 54.00,91.00L24.00,91.00C15.72,91.00 9.00,84.28 9.00,76.00Z"/><path transform="translate(300.00,0)" d="M9.00,105.00L9.00,9.00L47.00,62.00L85.00,9.00L85.00,105.00"/><path transform="translate(416.00,0)" d="M9.00,100.00L9.00,28.00C9.00,17.51 17.51,9.00 28.00,9.00L50.00,9.00C60.49,9.00 69.00,17.51 69.00,28.00L69.00,100.00"/><path transform="translate(416.00,0)" d="M9.00,52.00L69.00,52.00"/></g></g></g>
<g transform="translate(1134.40,302.00) scale(0.13311,0.12900)"><clipPath id="wc33"><rect x="-20" y="0" width="937.0" height="100"/></clipPath><g clip-path="url(#wc33)"><g fill="none" stroke="#000" stroke-width="38.030150753768865" stroke-linejoin="miter" stroke-miterlimit="2.5"><path transform="translate(0.00,0)" d="M76.00,9.00L9.00,9.00L9.00,91.00L76.00,91.00"/><path transform="translate(0.00,0)" d="M9.00,50.00L68.00,50.00"/><path transform="translate(98.00,0)" d="M9.00,105.00L9.00,9.00L67.00,91.00L67.00,-5.00"/><path transform="translate(196.00,0)" d="M74.00,9.00L24.00,9.00C15.72,9.00 9.00,15.72 9.00,24.00L9.00,76.00C9.00,84.28 15.72,91.00 24.00,91.00L74.00,91.00"/><path transform="translate(292.00,0)" d="M9.00,100.00L9.00,28.00C9.00,17.51 17.51,9.00 28.00,9.00L50.00,9.00C60.49,9.00 69.00,17.51 69.00,28.00L69.00,100.00"/><path transform="translate(292.00,0)" d="M9.00,52.00L69.00,52.00"/><path transform="translate(392.00,0)" d="M9.00,105.00L9.00,9.00L67.00,91.00L67.00,-5.00"/><path transform="translate(490.00,0)" d="M0.00,9.00L64.00,9.00"/><path transform="translate(490.00,0)" d="M32.00,9.00L32.00,100.00"/><path transform="translate(576.00,0)" d="M9.00,100.00L9.00,28.00C9.00,17.51 17.51,9.00 28.00,9.00L50.00,9.00C60.49,9.00 69.00,17.51 69.00,28.00L69.00,100.00"/><path transform="translate(576.00,0)" d="M9.00,52.00L69.00,52.00"/><path transform="translate(676.00,0)" d="M9.00,9.00L55.00,9.00C63.28,9.00 70.00,15.72 70.00,24.00L70.00,76.00C70.00,84.28 63.28,91.00 55.00,91.00L9.00,91.00Z"/><path transform="translate(777.00,0)" d="M9.00,24.00C9.00,15.72 15.72,9.00 24.00,9.00L54.00,9.00C62.28,9.00 69.00,15.72 69.00,24.00L69.00,76.00C69.00,84.28 62.28,91.00 54.00,91.00L24.00,91.00C15.72,91.00 9.00,84.28 9.00,76.00Z"/></g><rect x="877.00" y="28" width="20" height="18" fill="#000"/><rect x="877.00" y="66" width="20" height="18" fill="#000"/></g></g>
<g transform="translate(1134.40,302.00) scale(0.13311,0.12900)"><clipPath id="wc34"><rect x="-20" y="0" width="937.0" height="100"/></clipPath><g clip-path="url(#wc34)"><g fill="none" stroke="#ffffff" stroke-width="20" stroke-linejoin="miter" stroke-miterlimit="2.5"><path transform="translate(0.00,0)" d="M76.00,9.00L9.00,9.00L9.00,91.00L76.00,91.00"/><path transform="translate(0.00,0)" d="M9.00,50.00L68.00,50.00"/><path transform="translate(98.00,0)" d="M9.00,105.00L9.00,9.00L67.00,91.00L67.00,-5.00"/><path transform="translate(196.00,0)" d="M74.00,9.00L24.00,9.00C15.72,9.00 9.00,15.72 9.00,24.00L9.00,76.00C9.00,84.28 15.72,91.00 24.00,91.00L74.00,91.00"/><path transform="translate(292.00,0)" d="M9.00,100.00L9.00,28.00C9.00,17.51 17.51,9.00 28.00,9.00L50.00,9.00C60.49,9.00 69.00,17.51 69.00,28.00L69.00,100.00"/><path transform="translate(292.00,0)" d="M9.00,52.00L69.00,52.00"/><path transform="translate(392.00,0)" d="M9.00,105.00L9.00,9.00L67.00,91.00L67.00,-5.00"/><path transform="translate(490.00,0)" d="M0.00,9.00L64.00,9.00"/><path transform="translate(490.00,0)" d="M32.00,9.00L32.00,100.00"/><path transform="translate(576.00,0)" d="M9.00,100.00L9.00,28.00C9.00,17.51 17.51,9.00 28.00,9.00L50.00,9.00C60.49,9.00 69.00,17.51 69.00,28.00L69.00,100.00"/><path transform="translate(576.00,0)" d="M9.00,52.00L69.00,52.00"/><path transform="translate(676.00,0)" d="M9.00,9.00L55.00,9.00C63.28,9.00 70.00,15.72 70.00,24.00L70.00,76.00C70.00,84.28 63.28,91.00 55.00,91.00L9.00,91.00Z"/><path transform="translate(777.00,0)" d="M9.00,24.00C9.00,15.72 15.72,9.00 24.00,9.00L54.00,9.00C62.28,9.00 69.00,15.72 69.00,24.00L69.00,76.00C69.00,84.28 62.28,91.00 54.00,91.00L24.00,91.00C15.72,91.00 9.00,84.28 9.00,76.00Z"/></g><rect x="877.00" y="28" width="20" height="18" fill="#ffffff"/><rect x="877.00" y="66" width="20" height="18" fill="#ffffff"/></g></g>
<g transform="translate(1261.60,302.00) scale(0.13462,0.12900)"><clipPath id="wc35"><rect x="-20" y="0" width="701.0" height="100"/></clipPath><g clip-path="url(#wc35)"><g fill="none" stroke="#000" stroke-width="37.82857142857142" stroke-linejoin="miter" stroke-miterlimit="2.5"><path transform="translate(0.00,0)" d="M76.00,9.00L9.00,9.00L9.00,91.00L76.00,91.00"/><path transform="translate(0.00,0)" d="M9.00,50.00L68.00,50.00"/><path transform="translate(98.00,0)" d="M9.00,105.00L9.00,9.00L67.00,91.00L67.00,-5.00"/><path transform="translate(196.00,0)" d="M0.00,9.00L64.00,9.00"/><path transform="translate(196.00,0)" d="M32.00,9.00L32.00,100.00"/><path transform="translate(282.00,0)" d="M9.00,100.00L9.00,9.00L54.00,9.00C62.28,9.00 69.00,15.72 69.00,24.00L69.00,38.00C69.00,46.28 62.28,53.00 54.00,53.00L9.00,53.00"/><path transform="translate(282.00,0)" d="M39.00,53.00L65.34,87.24C67.36,89.87 69.00,94.69 69.00,98.00L69.00,105.00"/><path transform="translate(382.00,0)" d="M9.00,100.00L9.00,28.00C9.00,17.51 17.51,9.00 28.00,9.00L50.00,9.00C60.49,9.00 69.00,17.51 69.00,28.00L69.00,100.00"/><path transform="translate(382.00,0)" d="M9.00,52.00L69.00,52.00"/><path transform="translate(482.00,0)" d="M9.00,9.00L55.00,9.00C63.28,9.00 70.00,15.72 70.00,24.00L70.00,76.00C70.00,84.28 63.28,91.00 55.00,91.00L9.00,91.00Z"/><path transform="translate(583.00,0)" d="M9.00,100.00L9.00,28.00C9.00,17.51 17.51,9.00 28.00,9.00L50.00,9.00C60.49,9.00 69.00,17.51 69.00,28.00L69.00,100.00"/><path transform="translate(583.00,0)" d="M9.00,52.00L69.00,52.00"/></g></g></g>
<g transform="translate(1261.60,302.00) scale(0.13462,0.12900)"><clipPath id="wc36"><rect x="-20" y="0" width="701.0" height="100"/></clipPath><g clip-path="url(#wc36)"><g fill="none" stroke="#ffffff" stroke-width="20" stroke-linejoin="miter" stroke-miterlimit="2.5"><path transform="translate(0.00,0)" d="M76.00,9.00L9.00,9.00L9.00,91.00L76.00,91.00"/><path transform="translate(0.00,0)" d="M9.00,50.00L68.00,50.00"/><path transform="translate(98.00,0)" d="M9.00,105.00L9.00,9.00L67.00,91.00L67.00,-5.00"/><path transform="translate(196.00,0)" d="M0.00,9.00L64.00,9.00"/><path transform="translate(196.00,0)" d="M32.00,9.00L32.00,100.00"/><path transform="translate(282.00,0)" d="M9.00,100.00L9.00,9.00L54.00,9.00C62.28,9.00 69.00,15.72 69.00,24.00L69.00,38.00C69.00,46.28 62.28,53.00 54.00,53.00L9.00,53.00"/><path transform="translate(282.00,0)" d="M39.00,53.00L65.34,87.24C67.36,89.87 69.00,94.69 69.00,98.00L69.00,105.00"/><path transform="translate(382.00,0)" d="M9.00,100.00L9.00,28.00C9.00,17.51 17.51,9.00 28.00,9.00L50.00,9.00C60.49,9.00 69.00,17.51 69.00,28.00L69.00,100.00"/><path transform="translate(382.00,0)" d="M9.00,52.00L69.00,52.00"/><path transform="translate(482.00,0)" d="M9.00,9.00L55.00,9.00C63.28,9.00 70.00,15.72 70.00,24.00L70.00,76.00C70.00,84.28 63.28,91.00 55.00,91.00L9.00,91.00Z"/><path transform="translate(583.00,0)" d="M9.00,100.00L9.00,28.00C9.00,17.51 17.51,9.00 28.00,9.00L50.00,9.00C60.49,9.00 69.00,17.51 69.00,28.00L69.00,100.00"/><path transform="translate(583.00,0)" d="M9.00,52.00L69.00,52.00"/></g></g></g>
<g transform="translate(301.70,368.20) scale(0.13348,0.13600)"><clipPath id="wc37"><rect x="-20" y="0" width="497.0" height="100"/></clipPath><g clip-path="url(#wc37)"><g fill="none" stroke="#000" stroke-width="37.980327868852456" stroke-linejoin="miter" stroke-miterlimit="2.5"><path transform="translate(0.00,0)" d="M9.00,100.00L9.00,28.00C9.00,17.51 17.51,9.00 28.00,9.00L50.00,9.00C60.49,9.00 69.00,17.51 69.00,28.00L69.00,100.00"/><path transform="translate(0.00,0)" d="M9.00,52.00L69.00,52.00"/><path transform="translate(100.00,0)" d="M9.00,0.00L9.00,91.00L58.00,91.00"/><path transform="translate(180.00,0)" d="M9.00,9.00L55.00,9.00C63.28,9.00 70.00,15.72 70.00,24.00L70.00,76.00C70.00,84.28 63.28,91.00 55.00,91.00L9.00,91.00Z"/><path transform="translate(281.00,0)" d="M76.00,9.00L9.00,9.00L9.00,91.00L76.00,91.00"/><path transform="translate(281.00,0)" d="M9.00,50.00L68.00,50.00"/><path transform="translate(379.00,0)" d="M9.00,100.00L9.00,28.00C9.00,17.51 17.51,9.00 28.00,9.00L50.00,9.00C60.49,9.00 69.00,17.51 69.00,28.00L69.00,100.00"/><path transform="translate(379.00,0)" d="M9.00,52.00L69.00,52.00"/></g></g></g>
<g transform="translate(301.70,368.20) scale(0.13348,0.13600)"><clipPath id="wc38"><rect x="-20" y="0" width="497.0" height="100"/></clipPath><g clip-path="url(#wc38)"><g fill="none" stroke="#ffffff" stroke-width="20" stroke-linejoin="miter" stroke-miterlimit="2.5"><path transform="translate(0.00,0)" d="M9.00,100.00L9.00,28.00C9.00,17.51 17.51,9.00 28.00,9.00L50.00,9.00C60.49,9.00 69.00,17.51 69.00,28.00L69.00,100.00"/><path transform="translate(0.00,0)" d="M9.00,52.00L69.00,52.00"/><path transform="translate(100.00,0)" d="M9.00,0.00L9.00,91.00L58.00,91.00"/><path transform="translate(180.00,0)" d="M9.00,9.00L55.00,9.00C63.28,9.00 70.00,15.72 70.00,24.00L70.00,76.00C70.00,84.28 63.28,91.00 55.00,91.00L9.00,91.00Z"/><path transform="translate(281.00,0)" d="M76.00,9.00L9.00,9.00L9.00,91.00L76.00,91.00"/><path transform="translate(281.00,0)" d="M9.00,50.00L68.00,50.00"/><path transform="translate(379.00,0)" d="M9.00,100.00L9.00,28.00C9.00,17.51 17.51,9.00 28.00,9.00L50.00,9.00C60.49,9.00 69.00,17.51 69.00,28.00L69.00,100.00"/><path transform="translate(379.00,0)" d="M9.00,52.00L69.00,52.00"/></g></g></g>
<g transform="translate(371.10,368.20) scale(0.12362,0.13600)"><clipPath id="wc39"><rect x="-20" y="0" width="294.0" height="100"/></clipPath><g clip-path="url(#wc39)"><g fill="none" stroke="#000" stroke-width="39.414012738853515" stroke-linejoin="miter" stroke-miterlimit="2.5"><path transform="translate(0.00,0)" d="M9.00,0.00L9.00,91.00L58.00,91.00"/><path transform="translate(80.00,0)" d="M9.00,24.00C9.00,15.72 15.72,9.00 24.00,9.00L54.00,9.00C62.28,9.00 69.00,15.72 69.00,24.00L69.00,76.00C69.00,84.28 62.28,91.00 54.00,91.00L24.00,91.00C15.72,91.00 9.00,84.28 9.00,76.00Z"/><path transform="translate(180.00,0)" d="M74.00,9.00L24.00,9.00C15.72,9.00 9.00,15.72 9.00,24.00L9.00,35.00C9.00,43.28 15.72,50.00 24.00,50.00L50.00,50.00C58.28,50.00 65.00,56.72 65.00,65.00L65.00,76.00C65.00,84.28 58.28,91.00 50.00,91.00L0.00,91.00"/></g></g></g>
<g transform="translate(371.10,368.20) scale(0.12362,0.13600)"><clipPath id="wc40"><rect x="-20" y="0" width="294.0" height="100"/></clipPath><g clip-path="url(#wc40)"><g fill="none" stroke="#ffffff" stroke-width="20" stroke-linejoin="miter" stroke-miterlimit="2.5"><path transform="translate(0.00,0)" d="M9.00,0.00L9.00,91.00L58.00,91.00"/><path transform="translate(80.00,0)" d="M9.00,24.00C9.00,15.72 15.72,9.00 24.00,9.00L54.00,9.00C62.28,9.00 69.00,15.72 69.00,24.00L69.00,76.00C69.00,84.28 62.28,91.00 54.00,91.00L24.00,91.00C15.72,91.00 9.00,84.28 9.00,76.00Z"/><path transform="translate(180.00,0)" d="M74.00,9.00L24.00,9.00C15.72,9.00 9.00,15.72 9.00,24.00L9.00,35.00C9.00,43.28 15.72,50.00 24.00,50.00L50.00,50.00C58.28,50.00 65.00,56.72 65.00,65.00L65.00,76.00C65.00,84.28 58.28,91.00 50.00,91.00L0.00,91.00"/></g></g></g>
<g transform="translate(410.90,368.20) scale(0.12981,0.13600)"><clipPath id="wc41"><rect x="-20" y="0" width="929.0" height="100"/></clipPath><g clip-path="url(#wc41)"><g fill="none" stroke="#000" stroke-width="38.48873483535529" stroke-linejoin="miter" stroke-miterlimit="2.5"><path transform="translate(0.00,0)" d="M9.00,9.00L55.00,9.00C63.28,9.00 70.00,15.72 70.00,24.00L70.00,76.00C70.00,84.28 63.28,91.00 55.00,91.00L9.00,91.00Z"/><path transform="translate(101.00,0)" d="M76.00,9.00L9.00,9.00L9.00,91.00L76.00,91.00"/><path transform="translate(101.00,0)" d="M9.00,50.00L68.00,50.00"/><path transform="translate(199.00,0)" d="M74.00,9.00L24.00,9.00C15.72,9.00 9.00,15.72 9.00,24.00L9.00,35.00C9.00,43.28 15.72,50.00 24.00,50.00L50.00,50.00C58.28,50.00 65.00,56.72 65.00,65.00L65.00,76.00C65.00,84.28 58.28,91.00 50.00,91.00L0.00,91.00"/><path transform="translate(295.00,0)" d="M9.00,100.00L9.00,9.00L50.00,9.00C58.28,9.00 65.00,15.72 65.00,24.00L65.00,38.00C65.00,46.28 58.28,53.00 50.00,53.00L9.00,53.00"/><path transform="translate(391.00,0)" d="M9.00,0.00L9.00,100.00"/><path transform="translate(431.00,0)" d="M76.00,9.00L9.00,9.00L9.00,91.00L76.00,91.00"/><path transform="translate(431.00,0)" d="M9.00,50.00L68.00,50.00"/><path transform="translate(529.00,0)" d="M9.00,100.00L9.00,9.00L54.00,9.00C62.28,9.00 69.00,15.72 69.00,24.00L69.00,38.00C69.00,46.28 62.28,53.00 54.00,53.00L9.00,53.00"/><path transform="translate(529.00,0)" d="M39.00,53.00L65.34,87.24C67.36,89.87 69.00,94.69 69.00,98.00L69.00,105.00"/><path transform="translate(629.00,0)" d="M0.00,9.00L64.00,9.00"/><path transform="translate(629.00,0)" d="M32.00,9.00L32.00,100.00"/><path transform="translate(715.00,0)" d="M9.00,24.00C9.00,15.72 15.72,9.00 24.00,9.00L54.00,9.00C62.28,9.00 69.00,15.72 69.00,24.00L69.00,76.00C69.00,84.28 62.28,91.00 54.00,91.00L24.00,91.00C15.72,91.00 9.00,84.28 9.00,76.00Z"/><path transform="translate(815.00,0)" d="M74.00,9.00L24.00,9.00C15.72,9.00 9.00,15.72 9.00,24.00L9.00,35.00C9.00,43.28 15.72,50.00 24.00,50.00L50.00,50.00C58.28,50.00 65.00,56.72 65.00,65.00L65.00,76.00C65.00,84.28 58.28,91.00 50.00,91.00L0.00,91.00"/></g></g></g>
<g transform="translate(410.90,368.20) scale(0.12981,0.13600)"><clipPath id="wc42"><rect x="-20" y="0" width="929.0" height="100"/></clipPath><g clip-path="url(#wc42)"><g fill="none" stroke="#ffffff" stroke-width="20" stroke-linejoin="miter" stroke-miterlimit="2.5"><path transform="translate(0.00,0)" d="M9.00,9.00L55.00,9.00C63.28,9.00 70.00,15.72 70.00,24.00L70.00,76.00C70.00,84.28 63.28,91.00 55.00,91.00L9.00,91.00Z"/><path transform="translate(101.00,0)" d="M76.00,9.00L9.00,9.00L9.00,91.00L76.00,91.00"/><path transform="translate(101.00,0)" d="M9.00,50.00L68.00,50.00"/><path transform="translate(199.00,0)" d="M74.00,9.00L24.00,9.00C15.72,9.00 9.00,15.72 9.00,24.00L9.00,35.00C9.00,43.28 15.72,50.00 24.00,50.00L50.00,50.00C58.28,50.00 65.00,56.72 65.00,65.00L65.00,76.00C65.00,84.28 58.28,91.00 50.00,91.00L0.00,91.00"/><path transform="translate(295.00,0)" d="M9.00,100.00L9.00,9.00L50.00,9.00C58.28,9.00 65.00,15.72 65.00,24.00L65.00,38.00C65.00,46.28 58.28,53.00 50.00,53.00L9.00,53.00"/><path transform="translate(391.00,0)" d="M9.00,0.00L9.00,100.00"/><path transform="translate(431.00,0)" d="M76.00,9.00L9.00,9.00L9.00,91.00L76.00,91.00"/><path transform="translate(431.00,0)" d="M9.00,50.00L68.00,50.00"/><path transform="translate(529.00,0)" d="M9.00,100.00L9.00,9.00L54.00,9.00C62.28,9.00 69.00,15.72 69.00,24.00L69.00,38.00C69.00,46.28 62.28,53.00 54.00,53.00L9.00,53.00"/><path transform="translate(529.00,0)" d="M39.00,53.00L65.34,87.24C67.36,89.87 69.00,94.69 69.00,98.00L69.00,105.00"/><path transform="translate(629.00,0)" d="M0.00,9.00L64.00,9.00"/><path transform="translate(629.00,0)" d="M32.00,9.00L32.00,100.00"/><path transform="translate(715.00,0)" d="M9.00,24.00C9.00,15.72 15.72,9.00 24.00,9.00L54.00,9.00C62.28,9.00 69.00,15.72 69.00,24.00L69.00,76.00C69.00,84.28 62.28,91.00 54.00,91.00L24.00,91.00C15.72,91.00 9.00,84.28 9.00,76.00Z"/><path transform="translate(815.00,0)" d="M74.00,9.00L24.00,9.00C15.72,9.00 9.00,15.72 9.00,24.00L9.00,35.00C9.00,43.28 15.72,50.00 24.00,50.00L50.00,50.00C58.28,50.00 65.00,56.72 65.00,65.00L65.00,76.00C65.00,84.28 58.28,91.00 50.00,91.00L0.00,91.00"/></g></g></g>
<g transform="translate(565.70,505.20) scale(0.13568,0.12500)"><clipPath id="wc43"><rect x="-20" y="0" width="494.0" height="100"/></clipPath><g clip-path="url(#wc43)"><g fill="none" stroke="#000" stroke-width="37.688311688311714" stroke-linejoin="miter" stroke-miterlimit="2.5"><path transform="translate(0.00,0)" d="M9.00,100.00L9.00,28.00C9.00,17.51 17.51,9.00 28.00,9.00L50.00,9.00C60.49,9.00 69.00,17.51 69.00,28.00L69.00,100.00"/><path transform="translate(0.00,0)" d="M9.00,52.00L69.00,52.00"/><path transform="translate(100.00,0)" d="M9.00,0.00L9.00,91.00L58.00,91.00"/><path transform="translate(180.00,0)" d="M9.00,100.00L9.00,9.00L50.00,9.00C58.28,9.00 65.00,15.72 65.00,24.00L65.00,38.00C65.00,46.28 58.28,53.00 50.00,53.00L9.00,53.00"/><path transform="translate(276.00,0)" d="M9.00,0.00L9.00,100.00"/><path transform="translate(276.00,0)" d="M69.00,0.00L69.00,100.00"/><path transform="translate(276.00,0)" d="M9.00,50.00L69.00,50.00"/><path transform="translate(376.00,0)" d="M9.00,100.00L9.00,28.00C9.00,17.51 17.51,9.00 28.00,9.00L50.00,9.00C60.49,9.00 69.00,17.51 69.00,28.00L69.00,100.00"/><path transform="translate(376.00,0)" d="M9.00,52.00L69.00,52.00"/></g></g></g>
<g transform="translate(565.70,505.20) scale(0.13568,0.12500)"><clipPath id="wc44"><rect x="-20" y="0" width="494.0" height="100"/></clipPath><g clip-path="url(#wc44)"><g fill="none" stroke="#f39a1e" stroke-width="20" stroke-linejoin="miter" stroke-miterlimit="2.5"><path transform="translate(0.00,0)" d="M9.00,100.00L9.00,28.00C9.00,17.51 17.51,9.00 28.00,9.00L50.00,9.00C60.49,9.00 69.00,17.51 69.00,28.00L69.00,100.00"/><path transform="translate(0.00,0)" d="M9.00,52.00L69.00,52.00"/><path transform="translate(100.00,0)" d="M9.00,0.00L9.00,91.00L58.00,91.00"/><path transform="translate(180.00,0)" d="M9.00,100.00L9.00,9.00L50.00,9.00C58.28,9.00 65.00,15.72 65.00,24.00L65.00,38.00C65.00,46.28 58.28,53.00 50.00,53.00L9.00,53.00"/><path transform="translate(276.00,0)" d="M9.00,0.00L9.00,100.00"/><path transform="translate(276.00,0)" d="M69.00,0.00L69.00,100.00"/><path transform="translate(276.00,0)" d="M9.00,50.00L69.00,50.00"/><path transform="translate(376.00,0)" d="M9.00,100.00L9.00,28.00C9.00,17.51 17.51,9.00 28.00,9.00L50.00,9.00C60.49,9.00 69.00,17.51 69.00,28.00L69.00,100.00"/><path transform="translate(376.00,0)" d="M9.00,52.00L69.00,52.00"/></g></g></g>
<g transform="translate(373.20,536.90) scale(0.13977,0.13100)"><clipPath id="wc45"><rect x="-20" y="0" width="568.0" height="100"/></clipPath><g clip-path="url(#wc45)"><g fill="none" stroke="#000" stroke-width="37.170731707317074" stroke-linejoin="miter" stroke-miterlimit="2.5"><path transform="translate(0.00,0)" d="M74.00,9.00L24.00,9.00C15.72,9.00 9.00,15.72 9.00,24.00L9.00,76.00C9.00,84.28 15.72,91.00 24.00,91.00L74.00,91.00"/><path transform="translate(96.00,0)" d="M9.00,100.00L9.00,28.00C9.00,17.51 17.51,9.00 28.00,9.00L50.00,9.00C60.49,9.00 69.00,17.51 69.00,28.00L69.00,100.00"/><path transform="translate(96.00,0)" d="M9.00,52.00L69.00,52.00"/><path transform="translate(196.00,0)" d="M9.00,105.00L9.00,9.00L47.00,62.00L85.00,9.00L85.00,105.00"/><path transform="translate(312.00,0)" d="M9.00,0.00L9.00,100.00"/><path transform="translate(352.00,0)" d="M9.00,105.00L9.00,9.00L67.00,91.00L67.00,-5.00"/><path transform="translate(450.00,0)" d="M9.00,24.00C9.00,15.72 15.72,9.00 24.00,9.00L54.00,9.00C62.28,9.00 69.00,15.72 69.00,24.00L69.00,76.00C69.00,84.28 62.28,91.00 54.00,91.00L24.00,91.00C15.72,91.00 9.00,84.28 9.00,76.00Z"/></g></g></g>
<g transform="translate(373.20,536.90) scale(0.13977,0.13100)"><clipPath id="wc46"><rect x="-20" y="0" width="568.0" height="100"/></clipPath><g clip-path="url(#wc46)"><g fill="none" stroke="#ffffff" stroke-width="20" stroke-linejoin="miter" stroke-miterlimit="2.5"><path transform="translate(0.00,0)" d="M74.00,9.00L24.00,9.00C15.72,9.00 9.00,15.72 9.00,24.00L9.00,76.00C9.00,84.28 15.72,91.00 24.00,91.00L74.00,91.00"/><path transform="translate(96.00,0)" d="M9.00,100.00L9.00,28.00C9.00,17.51 17.51,9.00 28.00,9.00L50.00,9.00C60.49,9.00 69.00,17.51 69.00,28.00L69.00,100.00"/><path transform="translate(96.00,0)" d="M9.00,52.00L69.00,52.00"/><path transform="translate(196.00,0)" d="M9.00,105.00L9.00,9.00L47.00,62.00L85.00,9.00L85.00,105.00"/><path transform="translate(312.00,0)" d="M9.00,0.00L9.00,100.00"/><path transform="translate(352.00,0)" d="M9.00,105.00L9.00,9.00L67.00,91.00L67.00,-5.00"/><path transform="translate(450.00,0)" d="M9.00,24.00C9.00,15.72 15.72,9.00 24.00,9.00L54.00,9.00C62.28,9.00 69.00,15.72 69.00,24.00L69.00,76.00C69.00,84.28 62.28,91.00 54.00,91.00L24.00,91.00C15.72,91.00 9.00,84.28 9.00,76.00Z"/></g></g></g>
<g transform="translate(454.00,536.90) scale(0.13333,0.13100)"><clipPath id="wc47"><rect x="-20" y="0" width="217.0" height="100"/></clipPath><g clip-path="url(#wc47)"><g fill="none" stroke="#000" stroke-width="37.999999999999986" stroke-linejoin="miter" stroke-miterlimit="2.5"><path transform="translate(0.00,0)" d="M9.00,9.00L55.00,9.00C63.28,9.00 70.00,15.72 70.00,24.00L70.00,76.00C70.00,84.28 63.28,91.00 55.00,91.00L9.00,91.00Z"/><path transform="translate(101.00,0)" d="M76.00,9.00L9.00,9.00L9.00,91.00L76.00,91.00"/><path transform="translate(101.00,0)" d="M9.00,50.00L68.00,50.00"/></g></g></g>
<g transform="translate(454.00,536.90) scale(0.13333,0.13100)"><clipPath id="wc48"><rect x="-20" y="0" width="217.0" height="100"/></clipPath><g clip-path="url(#wc48)"><g fill="none" stroke="#ffffff" stroke-width="20" stroke-linejoin="miter" stroke-miterlimit="2.5"><path transform="translate(0.00,0)" d="M9.00,9.00L55.00,9.00C63.28,9.00 70.00,15.72 70.00,24.00L70.00,76.00C70.00,84.28 63.28,91.00 55.00,91.00L9.00,91.00Z"/><path transform="translate(101.00,0)" d="M76.00,9.00L9.00,9.00L9.00,91.00L76.00,91.00"/><path transform="translate(101.00,0)" d="M9.00,50.00L68.00,50.00"/></g></g></g>
<g transform="translate(485.00,536.90) scale(0.14394,0.13100)"><clipPath id="wc49"><rect x="-20" y="0" width="436.0" height="100"/></clipPath><g clip-path="url(#wc49)"><g fill="none" stroke="#000" stroke-width="36.67368421052632" stroke-linejoin="miter" stroke-miterlimit="2.5"><path transform="translate(0.00,0)" d="M9.00,0.00L9.00,91.00L58.00,91.00"/><path transform="translate(80.00,0)" d="M9.00,100.00L9.00,28.00C9.00,17.51 17.51,9.00 28.00,9.00L50.00,9.00C60.49,9.00 69.00,17.51 69.00,28.00L69.00,100.00"/><path transform="translate(80.00,0)" d="M9.00,52.00L69.00,52.00"/><path transform="translate(180.00,0)" d="M9.00,-5.00L9.00,79.00C9.00,85.63 11.83,86.44 15.33,80.81L71.72,-10.00"/><path transform="translate(276.00,0)" d="M9.00,100.00L9.00,28.00C9.00,17.51 17.51,9.00 28.00,9.00L50.00,9.00C60.49,9.00 69.00,17.51 69.00,28.00L69.00,100.00"/><path transform="translate(276.00,0)" d="M9.00,52.00L69.00,52.00"/></g><rect x="376.00" y="28" width="20" height="18" fill="#000"/><rect x="376.00" y="66" width="20" height="18" fill="#000"/></g></g>
<g transform="translate(485.00,536.90) scale(0.14394,0.13100)"><clipPath id="wc50"><rect x="-20" y="0" width="436.0" height="100"/></clipPath><g clip-path="url(#wc50)"><g fill="none" stroke="#ffffff" stroke-width="20" stroke-linejoin="miter" stroke-miterlimit="2.5"><path transform="translate(0.00,0)" d="M9.00,0.00L9.00,91.00L58.00,91.00"/><path transform="translate(80.00,0)" d="M9.00,100.00L9.00,28.00C9.00,17.51 17.51,9.00 28.00,9.00L50.00,9.00C60.49,9.00 69.00,17.51 69.00,28.00L69.00,100.00"/><path transform="translate(80.00,0)" d="M9.00,52.00L69.00,52.00"/><path transform="translate(180.00,0)" d="M9.00,-5.00L9.00,79.00C9.00,85.63 11.83,86.44 15.33,80.81L71.72,-10.00"/><path transform="translate(276.00,0)" d="M9.00,100.00L9.00,28.00C9.00,17.51 17.51,9.00 28.00,9.00L50.00,9.00C60.49,9.00 69.00,17.51 69.00,28.00L69.00,100.00"/><path transform="translate(276.00,0)" d="M9.00,52.00L69.00,52.00"/></g><rect x="376.00" y="28" width="20" height="18" fill="#ffffff"/><rect x="376.00" y="66" width="20" height="18" fill="#ffffff"/></g></g>
<g transform="translate(547.20,536.90) scale(0.13206,0.13100)"><clipPath id="wc51"><rect x="-20" y="0" width="720.0" height="100"/></clipPath><g clip-path="url(#wc51)"><g fill="none" stroke="#000" stroke-width="38.173719376391986" stroke-linejoin="miter" stroke-miterlimit="2.5"><path transform="translate(0.00,0)" d="M53.00,0.00L53.00,76.00C53.00,84.28 46.28,91.00 38.00,91.00L0.00,91.00"/><path transform="translate(84.00,0)" d="M9.00,0.00L9.00,76.00C9.00,84.28 15.72,91.00 24.00,91.00L54.00,91.00C62.28,91.00 69.00,84.28 69.00,76.00L69.00,0.00"/><path transform="translate(184.00,0)" d="M9.00,105.00L9.00,9.00L67.00,91.00L67.00,-5.00"/><path transform="translate(282.00,0)" d="M74.00,9.00L24.00,9.00C15.72,9.00 9.00,15.72 9.00,24.00L9.00,76.00C9.00,84.28 15.72,91.00 24.00,91.00L74.00,91.00"/><path transform="translate(378.00,0)" d="M0.00,9.00L64.00,9.00"/><path transform="translate(378.00,0)" d="M32.00,9.00L32.00,100.00"/><path transform="translate(464.00,0)" d="M9.00,0.00L9.00,100.00"/><path transform="translate(504.00,0)" d="M9.00,24.00C9.00,15.72 15.72,9.00 24.00,9.00L54.00,9.00C62.28,9.00 69.00,15.72 69.00,24.00L69.00,76.00C69.00,84.28 62.28,91.00 54.00,91.00L24.00,91.00C15.72,91.00 9.00,84.28 9.00,76.00Z"/><path transform="translate(604.00,0)" d="M9.00,105.00L9.00,9.00L67.00,91.00L67.00,-5.00"/></g></g></g>
<g transform="translate(547.20,536.90) scale(0.13206,0.13100)"><clipPath id="wc52"><rect x="-20" y="0" width="720.0" height="100"/></clipPath><g clip-path="url(#wc52)"><g fill="none" stroke="#ffffff" stroke-width="20" stroke-linejoin="miter" stroke-miterlimit="2.5"><path transform="translate(0.00,0)" d="M53.00,0.00L53.00,76.00C53.00,84.28 46.28,91.00 38.00,91.00L0.00,91.00"/><path transform="translate(84.00,0)" d="M9.00,0.00L9.00,76.00C9.00,84.28 15.72,91.00 24.00,91.00L54.00,91.00C62.28,91.00 69.00,84.28 69.00,76.00L69.00,0.00"/><path transform="translate(184.00,0)" d="M9.00,105.00L9.00,9.00L67.00,91.00L67.00,-5.00"/><path transform="translate(282.00,0)" d="M74.00,9.00L24.00,9.00C15.72,9.00 9.00,15.72 9.00,24.00L9.00,76.00C9.00,84.28 15.72,91.00 24.00,91.00L74.00,91.00"/><path transform="translate(378.00,0)" d="M0.00,9.00L64.00,9.00"/><path transform="translate(378.00,0)" d="M32.00,9.00L32.00,100.00"/><path transform="translate(464.00,0)" d="M9.00,0.00L9.00,100.00"/><path transform="translate(504.00,0)" d="M9.00,24.00C9.00,15.72 15.72,9.00 24.00,9.00L54.00,9.00C62.28,9.00 69.00,15.72 69.00,24.00L69.00,76.00C69.00,84.28 62.28,91.00 54.00,91.00L24.00,91.00C15.72,91.00 9.00,84.28 9.00,76.00Z"/><path transform="translate(604.00,0)" d="M9.00,105.00L9.00,9.00L67.00,91.00L67.00,-5.00"/></g></g></g>
<g transform="translate(768.00,659.50) scale(0.13864,0.12700)"><clipPath id="wc53"><rect x="-20" y="0" width="568.0" height="100"/></clipPath><g clip-path="url(#wc53)"><g fill="none" stroke="#000" stroke-width="37.31147540983605" stroke-linejoin="miter" stroke-miterlimit="2.5"><path transform="translate(0.00,0)" d="M74.00,9.00L24.00,9.00C15.72,9.00 9.00,15.72 9.00,24.00L9.00,76.00C9.00,84.28 15.72,91.00 24.00,91.00L74.00,91.00"/><path transform="translate(96.00,0)" d="M9.00,100.00L9.00,28.00C9.00,17.51 17.51,9.00 28.00,9.00L50.00,9.00C60.49,9.00 69.00,17.51 69.00,28.00L69.00,100.00"/><path transform="translate(96.00,0)" d="M9.00,52.00L69.00,52.00"/><path transform="translate(196.00,0)" d="M9.00,105.00L9.00,9.00L47.00,62.00L85.00,9.00L85.00,105.00"/><path transform="translate(312.00,0)" d="M9.00,0.00L9.00,100.00"/><path transform="translate(352.00,0)" d="M9.00,105.00L9.00,9.00L67.00,91.00L67.00,-5.00"/><path transform="translate(450.00,0)" d="M9.00,24.00C9.00,15.72 15.72,9.00 24.00,9.00L54.00,9.00C62.28,9.00 69.00,15.72 69.00,24.00L69.00,76.00C69.00,84.28 62.28,91.00 54.00,91.00L24.00,91.00C15.72,91.00 9.00,84.28 9.00,76.00Z"/></g></g></g>
<g transform="translate(768.00,659.50) scale(0.13864,0.12700)"><clipPath id="wc54"><rect x="-20" y="0" width="568.0" height="100"/></clipPath><g clip-path="url(#wc54)"><g fill="none" stroke="#ffffff" stroke-width="20" stroke-linejoin="miter" stroke-miterlimit="2.5"><path transform="translate(0.00,0)" d="M74.00,9.00L24.00,9.00C15.72,9.00 9.00,15.72 9.00,24.00L9.00,76.00C9.00,84.28 15.72,91.00 24.00,91.00L74.00,91.00"/><path transform="translate(96.00,0)" d="M9.00,100.00L9.00,28.00C9.00,17.51 17.51,9.00 28.00,9.00L50.00,9.00C60.49,9.00 69.00,17.51 69.00,28.00L69.00,100.00"/><path transform="translate(96.00,0)" d="M9.00,52.00L69.00,52.00"/><path transform="translate(196.00,0)" d="M9.00,105.00L9.00,9.00L47.00,62.00L85.00,9.00L85.00,105.00"/><path transform="translate(312.00,0)" d="M9.00,0.00L9.00,100.00"/><path transform="translate(352.00,0)" d="M9.00,105.00L9.00,9.00L67.00,91.00L67.00,-5.00"/><path transform="translate(450.00,0)" d="M9.00,24.00C9.00,15.72 15.72,9.00 24.00,9.00L54.00,9.00C62.28,9.00 69.00,15.72 69.00,24.00L69.00,76.00C69.00,84.28 62.28,91.00 54.00,91.00L24.00,91.00C15.72,91.00 9.00,84.28 9.00,76.00Z"/></g></g></g>
<g transform="translate(847.90,659.50) scale(0.12825,0.12700)"><clipPath id="wc55"><rect x="-20" y="0" width="217.0" height="100"/></clipPath><g clip-path="url(#wc55)"><g fill="none" stroke="#000" stroke-width="38.71365638766516" stroke-linejoin="miter" stroke-miterlimit="2.5"><path transform="translate(0.00,0)" d="M9.00,9.00L55.00,9.00C63.28,9.00 70.00,15.72 70.00,24.00L70.00,76.00C70.00,84.28 63.28,91.00 55.00,91.00L9.00,91.00Z"/><path transform="translate(101.00,0)" d="M76.00,9.00L9.00,9.00L9.00,91.00L76.00,91.00"/><path transform="translate(101.00,0)" d="M9.00,50.00L68.00,50.00"/></g></g></g>
<g transform="translate(847.90,659.50) scale(0.12825,0.12700)"><clipPath id="wc56"><rect x="-20" y="0" width="217.0" height="100"/></clipPath><g clip-path="url(#wc56)"><g fill="none" stroke="#ffffff" stroke-width="20" stroke-linejoin="miter" stroke-miterlimit="2.5"><path transform="translate(0.00,0)" d="M9.00,9.00L55.00,9.00C63.28,9.00 70.00,15.72 70.00,24.00L70.00,76.00C70.00,84.28 63.28,91.00 55.00,91.00L9.00,91.00Z"/><path transform="translate(101.00,0)" d="M76.00,9.00L9.00,9.00L9.00,91.00L76.00,91.00"/><path transform="translate(101.00,0)" d="M9.00,50.00L68.00,50.00"/></g></g></g>
<g transform="translate(877.70,659.50) scale(0.14116,0.12700)"><clipPath id="wc57"><rect x="-20" y="0" width="436.0" height="100"/></clipPath><g clip-path="url(#wc57)"><g fill="none" stroke="#000" stroke-width="37.00178890876566" stroke-linejoin="miter" stroke-miterlimit="2.5"><path transform="translate(0.00,0)" d="M9.00,0.00L9.00,91.00L58.00,91.00"/><path transform="translate(80.00,0)" d="M9.00,100.00L9.00,28.00C9.00,17.51 17.51,9.00 28.00,9.00L50.00,9.00C60.49,9.00 69.00,17.51 69.00,28.00L69.00,100.00"/><path transform="translate(80.00,0)" d="M9.00,52.00L69.00,52.00"/><path transform="translate(180.00,0)" d="M9.00,-5.00L9.00,79.00C9.00,85.63 11.83,86.44 15.33,80.81L71.72,-10.00"/><path transform="translate(276.00,0)" d="M9.00,100.00L9.00,28.00C9.00,17.51 17.51,9.00 28.00,9.00L50.00,9.00C60.49,9.00 69.00,17.51 69.00,28.00L69.00,100.00"/><path transform="translate(276.00,0)" d="M9.00,52.00L69.00,52.00"/></g><rect x="376.00" y="28" width="20" height="18" fill="#000"/><rect x="376.00" y="66" width="20" height="18" fill="#000"/></g></g>
<g transform="translate(877.70,659.50) scale(0.14116,0.12700)"><clipPath id="wc58"><rect x="-20" y="0" width="436.0" height="100"/></clipPath><g clip-path="url(#wc58)"><g fill="none" stroke="#ffffff" stroke-width="20" stroke-linejoin="miter" stroke-miterlimit="2.5"><path transform="translate(0.00,0)" d="M9.00,0.00L9.00,91.00L58.00,91.00"/><path transform="translate(80.00,0)" d="M9.00,100.00L9.00,28.00C9.00,17.51 17.51,9.00 28.00,9.00L50.00,9.00C60.49,9.00 69.00,17.51 69.00,28.00L69.00,100.00"/><path transform="translate(80.00,0)" d="M9.00,52.00L69.00,52.00"/><path transform="translate(180.00,0)" d="M9.00,-5.00L9.00,79.00C9.00,85.63 11.83,86.44 15.33,80.81L71.72,-10.00"/><path transform="translate(276.00,0)" d="M9.00,100.00L9.00,28.00C9.00,17.51 17.51,9.00 28.00,9.00L50.00,9.00C60.49,9.00 69.00,17.51 69.00,28.00L69.00,100.00"/><path transform="translate(276.00,0)" d="M9.00,52.00L69.00,52.00"/></g><rect x="376.00" y="28" width="20" height="18" fill="#ffffff"/><rect x="376.00" y="66" width="20" height="18" fill="#ffffff"/></g></g>
<g transform="translate(941.30,659.50) scale(0.13051,0.12700)"><clipPath id="wc59"><rect x="-20" y="0" width="653.0" height="100"/></clipPath><g clip-path="url(#wc59)"><g fill="none" stroke="#000" stroke-width="38.39" stroke-linejoin="miter" stroke-miterlimit="2.5"><path transform="translate(0.00,0)" d="M9.00,0.00L9.00,100.00"/><path transform="translate(0.00,0)" d="M69.00,0.00L69.00,100.00"/><path transform="translate(0.00,0)" d="M9.00,50.00L69.00,50.00"/><path transform="translate(100.00,0)" d="M9.00,0.00L9.00,100.00"/><path transform="translate(140.00,0)" d="M9.00,0.00L9.00,91.00L58.00,91.00"/><path transform="translate(220.00,0)" d="M9.00,0.00L9.00,91.00L58.00,91.00"/><path transform="translate(300.00,0)" d="M74.00,9.00L24.00,9.00C15.72,9.00 9.00,15.72 9.00,24.00L9.00,35.00C9.00,43.28 15.72,50.00 24.00,50.00L50.00,50.00C58.28,50.00 65.00,56.72 65.00,65.00L65.00,76.00C65.00,84.28 58.28,91.00 50.00,91.00L0.00,91.00"/><path transform="translate(396.00,0)" d="M9.00,0.00L9.00,100.00"/><path transform="translate(436.00,0)" d="M9.00,9.00L55.00,9.00C63.28,9.00 70.00,15.72 70.00,24.00L70.00,76.00C70.00,84.28 63.28,91.00 55.00,91.00L9.00,91.00Z"/><path transform="translate(537.00,0)" d="M76.00,9.00L9.00,9.00L9.00,91.00L76.00,91.00"/><path transform="translate(537.00,0)" d="M9.00,50.00L68.00,50.00"/></g></g></g>
<g transform="translate(941.30,659.50) scale(0.13051,0.12700)"><clipPath id="wc60"><rect x="-20" y="0" width="653.0" height="100"/></clipPath><g clip-path="url(#wc60)"><g fill="none" stroke="#ffffff" stroke-width="20" stroke-linejoin="miter" stroke-miterlimit="2.5"><path transform="translate(0.00,0)" d="M9.00,0.00L9.00,100.00"/><path transform="translate(0.00,0)" d="M69.00,0.00L69.00,100.00"/><path transform="translate(0.00,0)" d="M9.00,50.00L69.00,50.00"/><path transform="translate(100.00,0)" d="M9.00,0.00L9.00,100.00"/><path transform="translate(140.00,0)" d="M9.00,0.00L9.00,91.00L58.00,91.00"/><path transform="translate(220.00,0)" d="M9.00,0.00L9.00,91.00L58.00,91.00"/><path transform="translate(300.00,0)" d="M74.00,9.00L24.00,9.00C15.72,9.00 9.00,15.72 9.00,24.00L9.00,35.00C9.00,43.28 15.72,50.00 24.00,50.00L50.00,50.00C58.28,50.00 65.00,56.72 65.00,65.00L65.00,76.00C65.00,84.28 58.28,91.00 50.00,91.00L0.00,91.00"/><path transform="translate(396.00,0)" d="M9.00,0.00L9.00,100.00"/><path transform="translate(436.00,0)" d="M9.00,9.00L55.00,9.00C63.28,9.00 70.00,15.72 70.00,24.00L70.00,76.00C70.00,84.28 63.28,91.00 55.00,91.00L9.00,91.00Z"/><path transform="translate(537.00,0)" d="M76.00,9.00L9.00,9.00L9.00,91.00L76.00,91.00"/><path transform="translate(537.00,0)" d="M9.00,50.00L68.00,50.00"/></g></g></g>
<g transform="translate(1131.00,706.90) scale(0.13189,0.13400)"><clipPath id="wc61"><rect x="-20" y="0" width="639.0" height="100"/></clipPath><g clip-path="url(#wc61)"><g fill="none" stroke="#000" stroke-width="38.197468354430384" stroke-linejoin="miter" stroke-miterlimit="2.5"><path transform="translate(0.00,0)" d="M9.00,0.00L9.00,91.00L58.00,91.00"/><path transform="translate(80.00,0)" d="M9.00,24.00C9.00,15.72 15.72,9.00 24.00,9.00L54.00,9.00C62.28,9.00 69.00,15.72 69.00,24.00L69.00,76.00C69.00,84.28 62.28,91.00 54.00,91.00L24.00,91.00C15.72,91.00 9.00,84.28 9.00,76.00Z"/><path transform="translate(180.00,0)" d="M9.00,100.00L9.00,28.00C9.00,17.51 17.51,9.00 28.00,9.00L50.00,9.00C60.49,9.00 69.00,17.51 69.00,28.00L69.00,100.00"/><path transform="translate(180.00,0)" d="M9.00,52.00L69.00,52.00"/><path transform="translate(280.00,0)" d="M9.00,9.00L55.00,9.00C63.28,9.00 70.00,15.72 70.00,24.00L70.00,76.00C70.00,84.28 63.28,91.00 55.00,91.00L9.00,91.00Z"/><path transform="translate(381.00,0)" d="M9.00,0.00L9.00,100.00"/><path transform="translate(421.00,0)" d="M9.00,105.00L9.00,9.00L67.00,91.00L67.00,-5.00"/><path transform="translate(519.00,0)" d="M80.00,9.00L24.00,9.00C15.72,9.00 9.00,15.72 9.00,24.00L9.00,76.00C9.00,84.28 15.72,91.00 24.00,91.00L62.00,91.00C66.97,91.00 71.00,86.97 71.00,82.00L71.00,50.00L40.00,50.00"/></g></g></g>
<g transform="translate(1131.00,706.90) scale(0.13189,0.13400)"><clipPath id="wc62"><rect x="-20" y="0" width="639.0" height="100"/></clipPath><g clip-path="url(#wc62)"><g fill="none" stroke="#ffffff" stroke-width="20" stroke-linejoin="miter" stroke-miterlimit="2.5"><path transform="translate(0.00,0)" d="M9.00,0.00L9.00,91.00L58.00,91.00"/><path transform="translate(80.00,0)" d="M9.00,24.00C9.00,15.72 15.72,9.00 24.00,9.00L54.00,9.00C62.28,9.00 69.00,15.72 69.00,24.00L69.00,76.00C69.00,84.28 62.28,91.00 54.00,91.00L24.00,91.00C15.72,91.00 9.00,84.28 9.00,76.00Z"/><path transform="translate(180.00,0)" d="M9.00,100.00L9.00,28.00C9.00,17.51 17.51,9.00 28.00,9.00L50.00,9.00C60.49,9.00 69.00,17.51 69.00,28.00L69.00,100.00"/><path transform="translate(180.00,0)" d="M9.00,52.00L69.00,52.00"/><path transform="translate(280.00,0)" d="M9.00,9.00L55.00,9.00C63.28,9.00 70.00,15.72 70.00,24.00L70.00,76.00C70.00,84.28 63.28,91.00 55.00,91.00L9.00,91.00Z"/><path transform="translate(381.00,0)" d="M9.00,0.00L9.00,100.00"/><path transform="translate(421.00,0)" d="M9.00,105.00L9.00,9.00L67.00,91.00L67.00,-5.00"/><path transform="translate(519.00,0)" d="M80.00,9.00L24.00,9.00C15.72,9.00 9.00,15.72 9.00,24.00L9.00,76.00C9.00,84.28 15.72,91.00 24.00,91.00L62.00,91.00C66.97,91.00 71.00,86.97 71.00,82.00L71.00,50.00L40.00,50.00"/></g></g></g>
<g transform="translate(1220.00,706.90) scale(0.13040,0.13400)"><clipPath id="wc63"><rect x="-20" y="0" width="438.0" height="100"/></clipPath><g clip-path="url(#wc63)"><g fill="none" stroke="#000" stroke-width="38.40462427745662" stroke-linejoin="miter" stroke-miterlimit="2.5"><path transform="translate(0.00,0)" d="M9.00,100.00L9.00,9.00L50.00,9.00C58.28,9.00 65.00,15.72 65.00,24.00L65.00,38.00C65.00,46.28 58.28,53.00 50.00,53.00L9.00,53.00"/><path transform="translate(96.00,0)" d="M9.00,24.00C9.00,15.72 15.72,9.00 24.00,9.00L54.00,9.00C62.28,9.00 69.00,15.72 69.00,24.00L69.00,76.00C69.00,84.28 62.28,91.00 54.00,91.00L24.00,91.00C15.72,91.00 9.00,84.28 9.00,76.00Z"/><path transform="translate(196.00,0)" d="M9.00,0.00L9.00,100.00"/><path transform="translate(236.00,0)" d="M9.00,105.00L9.00,9.00L67.00,91.00L67.00,-5.00"/><path transform="translate(334.00,0)" d="M0.00,9.00L64.00,9.00"/><path transform="translate(334.00,0)" d="M32.00,9.00L32.00,100.00"/></g></g></g>
<g transform="translate(1220.00,706.90) scale(0.13040,0.13400)"><clipPath id="wc64"><rect x="-20" y="0" width="438.0" height="100"/></clipPath><g clip-path="url(#wc64)"><g fill="none" stroke="#ffffff" stroke-width="20" stroke-linejoin="miter" stroke-miterlimit="2.5"><path transform="translate(0.00,0)" d="M9.00,100.00L9.00,9.00L50.00,9.00C58.28,9.00 65.00,15.72 65.00,24.00L65.00,38.00C65.00,46.28 58.28,53.00 50.00,53.00L9.00,53.00"/><path transform="translate(96.00,0)" d="M9.00,24.00C9.00,15.72 15.72,9.00 24.00,9.00L54.00,9.00C62.28,9.00 69.00,15.72 69.00,24.00L69.00,76.00C69.00,84.28 62.28,91.00 54.00,91.00L24.00,91.00C15.72,91.00 9.00,84.28 9.00,76.00Z"/><path transform="translate(196.00,0)" d="M9.00,0.00L9.00,100.00"/><path transform="translate(236.00,0)" d="M9.00,105.00L9.00,9.00L67.00,91.00L67.00,-5.00"/><path transform="translate(334.00,0)" d="M0.00,9.00L64.00,9.00"/><path transform="translate(334.00,0)" d="M32.00,9.00L32.00,100.00"/></g></g></g>
</g>
</svg>
</body></html>
